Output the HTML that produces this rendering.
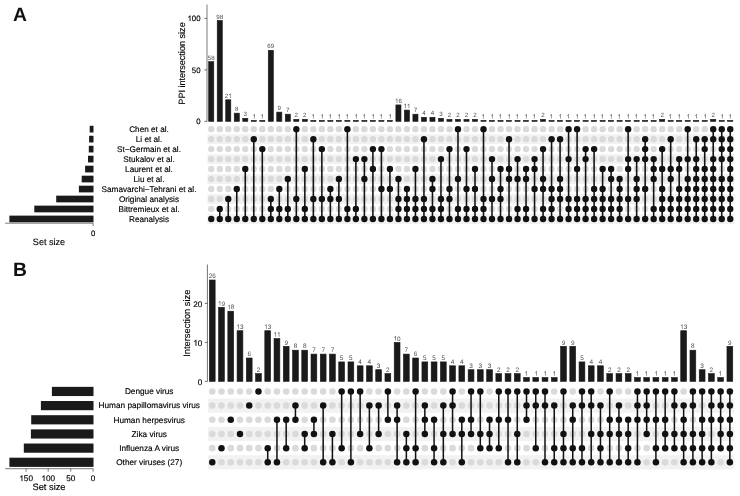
<!DOCTYPE html>
<html><head><meta charset="utf-8"><title>UpSet</title>
<style>
html,body{margin:0;padding:0;background:#fff;}
text{stroke:#000;stroke-width:0.15px;} .lb text{stroke:none;} path.tk{stroke:#000;stroke-width:0.02px;}
svg{display:block;font-family:"Liberation Sans",sans-serif;filter:grayscale(1);text-rendering:geometricPrecision;}
</style></head><body>
<svg width="740" height="496" viewBox="0 0 740 496">
<rect width="740" height="496" fill="#fff"/>
<rect x="207.3" y="134.14" width="527.3" height="9.98" fill="#f2f2f2"/>
<rect x="207.3" y="154.1" width="527.3" height="9.98" fill="#f2f2f2"/>
<rect x="207.3" y="174.06" width="527.3" height="9.98" fill="#f2f2f2"/>
<rect x="207.3" y="194.02" width="527.3" height="9.98" fill="#f2f2f2"/>
<rect x="207.3" y="213.98" width="527.3" height="9.98" fill="#f2f2f2"/>
<g fill="#dadada"><circle cx="211.25" cy="129.15" r="3.2"/><circle cx="211.25" cy="139.13" r="3.2"/><circle cx="211.25" cy="149.11" r="3.2"/><circle cx="211.25" cy="159.09" r="3.2"/><circle cx="211.25" cy="169.07" r="3.2"/><circle cx="211.25" cy="179.05" r="3.2"/><circle cx="211.25" cy="189.03" r="3.2"/><circle cx="211.25" cy="199.01" r="3.2"/><circle cx="211.25" cy="208.99" r="3.2"/><circle cx="219.76" cy="129.15" r="3.2"/><circle cx="219.76" cy="139.13" r="3.2"/><circle cx="219.76" cy="149.11" r="3.2"/><circle cx="219.76" cy="159.09" r="3.2"/><circle cx="219.76" cy="169.07" r="3.2"/><circle cx="219.76" cy="179.05" r="3.2"/><circle cx="219.76" cy="189.03" r="3.2"/><circle cx="219.76" cy="199.01" r="3.2"/><circle cx="228.27" cy="129.15" r="3.2"/><circle cx="228.27" cy="139.13" r="3.2"/><circle cx="228.27" cy="149.11" r="3.2"/><circle cx="228.27" cy="159.09" r="3.2"/><circle cx="228.27" cy="169.07" r="3.2"/><circle cx="228.27" cy="179.05" r="3.2"/><circle cx="228.27" cy="189.03" r="3.2"/><circle cx="228.27" cy="208.99" r="3.2"/><circle cx="236.77" cy="129.15" r="3.2"/><circle cx="236.77" cy="139.13" r="3.2"/><circle cx="236.77" cy="149.11" r="3.2"/><circle cx="236.77" cy="159.09" r="3.2"/><circle cx="236.77" cy="169.07" r="3.2"/><circle cx="236.77" cy="179.05" r="3.2"/><circle cx="236.77" cy="199.01" r="3.2"/><circle cx="236.77" cy="208.99" r="3.2"/><circle cx="245.28" cy="129.15" r="3.2"/><circle cx="245.28" cy="139.13" r="3.2"/><circle cx="245.28" cy="149.11" r="3.2"/><circle cx="245.28" cy="159.09" r="3.2"/><circle cx="245.28" cy="179.05" r="3.2"/><circle cx="245.28" cy="189.03" r="3.2"/><circle cx="245.28" cy="199.01" r="3.2"/><circle cx="245.28" cy="208.99" r="3.2"/><circle cx="253.79" cy="129.15" r="3.2"/><circle cx="253.79" cy="149.11" r="3.2"/><circle cx="253.79" cy="159.09" r="3.2"/><circle cx="253.79" cy="169.07" r="3.2"/><circle cx="253.79" cy="179.05" r="3.2"/><circle cx="253.79" cy="189.03" r="3.2"/><circle cx="253.79" cy="199.01" r="3.2"/><circle cx="253.79" cy="208.99" r="3.2"/><circle cx="262.3" cy="129.15" r="3.2"/><circle cx="262.3" cy="139.13" r="3.2"/><circle cx="262.3" cy="159.09" r="3.2"/><circle cx="262.3" cy="169.07" r="3.2"/><circle cx="262.3" cy="179.05" r="3.2"/><circle cx="262.3" cy="189.03" r="3.2"/><circle cx="262.3" cy="199.01" r="3.2"/><circle cx="262.3" cy="208.99" r="3.2"/><circle cx="270.81" cy="129.15" r="3.2"/><circle cx="270.81" cy="139.13" r="3.2"/><circle cx="270.81" cy="149.11" r="3.2"/><circle cx="270.81" cy="159.09" r="3.2"/><circle cx="270.81" cy="169.07" r="3.2"/><circle cx="270.81" cy="179.05" r="3.2"/><circle cx="270.81" cy="189.03" r="3.2"/><circle cx="279.31" cy="129.15" r="3.2"/><circle cx="279.31" cy="139.13" r="3.2"/><circle cx="279.31" cy="149.11" r="3.2"/><circle cx="279.31" cy="159.09" r="3.2"/><circle cx="279.31" cy="169.07" r="3.2"/><circle cx="279.31" cy="179.05" r="3.2"/><circle cx="279.31" cy="199.01" r="3.2"/><circle cx="287.82" cy="129.15" r="3.2"/><circle cx="287.82" cy="139.13" r="3.2"/><circle cx="287.82" cy="149.11" r="3.2"/><circle cx="287.82" cy="159.09" r="3.2"/><circle cx="287.82" cy="169.07" r="3.2"/><circle cx="287.82" cy="189.03" r="3.2"/><circle cx="287.82" cy="199.01" r="3.2"/><circle cx="296.33" cy="139.13" r="3.2"/><circle cx="296.33" cy="149.11" r="3.2"/><circle cx="296.33" cy="159.09" r="3.2"/><circle cx="296.33" cy="169.07" r="3.2"/><circle cx="296.33" cy="179.05" r="3.2"/><circle cx="296.33" cy="189.03" r="3.2"/><circle cx="296.33" cy="208.99" r="3.2"/><circle cx="304.84" cy="129.15" r="3.2"/><circle cx="304.84" cy="139.13" r="3.2"/><circle cx="304.84" cy="149.11" r="3.2"/><circle cx="304.84" cy="159.09" r="3.2"/><circle cx="304.84" cy="179.05" r="3.2"/><circle cx="304.84" cy="189.03" r="3.2"/><circle cx="304.84" cy="199.01" r="3.2"/><circle cx="313.35" cy="129.15" r="3.2"/><circle cx="313.35" cy="149.11" r="3.2"/><circle cx="313.35" cy="159.09" r="3.2"/><circle cx="313.35" cy="169.07" r="3.2"/><circle cx="313.35" cy="179.05" r="3.2"/><circle cx="313.35" cy="189.03" r="3.2"/><circle cx="313.35" cy="208.99" r="3.2"/><circle cx="321.85" cy="129.15" r="3.2"/><circle cx="321.85" cy="139.13" r="3.2"/><circle cx="321.85" cy="159.09" r="3.2"/><circle cx="321.85" cy="169.07" r="3.2"/><circle cx="321.85" cy="179.05" r="3.2"/><circle cx="321.85" cy="189.03" r="3.2"/><circle cx="321.85" cy="208.99" r="3.2"/><circle cx="330.36" cy="129.15" r="3.2"/><circle cx="330.36" cy="139.13" r="3.2"/><circle cx="330.36" cy="149.11" r="3.2"/><circle cx="330.36" cy="159.09" r="3.2"/><circle cx="330.36" cy="169.07" r="3.2"/><circle cx="330.36" cy="179.05" r="3.2"/><circle cx="330.36" cy="208.99" r="3.2"/><circle cx="338.87" cy="129.15" r="3.2"/><circle cx="338.87" cy="139.13" r="3.2"/><circle cx="338.87" cy="149.11" r="3.2"/><circle cx="338.87" cy="159.09" r="3.2"/><circle cx="338.87" cy="169.07" r="3.2"/><circle cx="338.87" cy="189.03" r="3.2"/><circle cx="338.87" cy="208.99" r="3.2"/><circle cx="347.38" cy="139.13" r="3.2"/><circle cx="347.38" cy="149.11" r="3.2"/><circle cx="347.38" cy="159.09" r="3.2"/><circle cx="347.38" cy="169.07" r="3.2"/><circle cx="347.38" cy="179.05" r="3.2"/><circle cx="347.38" cy="189.03" r="3.2"/><circle cx="347.38" cy="199.01" r="3.2"/><circle cx="355.89" cy="129.15" r="3.2"/><circle cx="355.89" cy="139.13" r="3.2"/><circle cx="355.89" cy="149.11" r="3.2"/><circle cx="355.89" cy="169.07" r="3.2"/><circle cx="355.89" cy="179.05" r="3.2"/><circle cx="355.89" cy="189.03" r="3.2"/><circle cx="355.89" cy="199.01" r="3.2"/><circle cx="364.39" cy="129.15" r="3.2"/><circle cx="364.39" cy="139.13" r="3.2"/><circle cx="364.39" cy="149.11" r="3.2"/><circle cx="364.39" cy="169.07" r="3.2"/><circle cx="364.39" cy="189.03" r="3.2"/><circle cx="364.39" cy="199.01" r="3.2"/><circle cx="364.39" cy="208.99" r="3.2"/><circle cx="372.9" cy="129.15" r="3.2"/><circle cx="372.9" cy="139.13" r="3.2"/><circle cx="372.9" cy="159.09" r="3.2"/><circle cx="372.9" cy="179.05" r="3.2"/><circle cx="372.9" cy="189.03" r="3.2"/><circle cx="372.9" cy="199.01" r="3.2"/><circle cx="372.9" cy="208.99" r="3.2"/><circle cx="381.41" cy="129.15" r="3.2"/><circle cx="381.41" cy="139.13" r="3.2"/><circle cx="381.41" cy="159.09" r="3.2"/><circle cx="381.41" cy="169.07" r="3.2"/><circle cx="381.41" cy="179.05" r="3.2"/><circle cx="381.41" cy="199.01" r="3.2"/><circle cx="381.41" cy="208.99" r="3.2"/><circle cx="389.92" cy="129.15" r="3.2"/><circle cx="389.92" cy="139.13" r="3.2"/><circle cx="389.92" cy="149.11" r="3.2"/><circle cx="389.92" cy="159.09" r="3.2"/><circle cx="389.92" cy="179.05" r="3.2"/><circle cx="389.92" cy="199.01" r="3.2"/><circle cx="389.92" cy="208.99" r="3.2"/><circle cx="398.43" cy="129.15" r="3.2"/><circle cx="398.43" cy="139.13" r="3.2"/><circle cx="398.43" cy="149.11" r="3.2"/><circle cx="398.43" cy="159.09" r="3.2"/><circle cx="398.43" cy="169.07" r="3.2"/><circle cx="398.43" cy="189.03" r="3.2"/><circle cx="406.93" cy="129.15" r="3.2"/><circle cx="406.93" cy="139.13" r="3.2"/><circle cx="406.93" cy="149.11" r="3.2"/><circle cx="406.93" cy="159.09" r="3.2"/><circle cx="406.93" cy="169.07" r="3.2"/><circle cx="406.93" cy="179.05" r="3.2"/><circle cx="415.44" cy="129.15" r="3.2"/><circle cx="415.44" cy="139.13" r="3.2"/><circle cx="415.44" cy="149.11" r="3.2"/><circle cx="415.44" cy="159.09" r="3.2"/><circle cx="415.44" cy="179.05" r="3.2"/><circle cx="415.44" cy="189.03" r="3.2"/><circle cx="423.95" cy="129.15" r="3.2"/><circle cx="423.95" cy="149.11" r="3.2"/><circle cx="423.95" cy="159.09" r="3.2"/><circle cx="423.95" cy="169.07" r="3.2"/><circle cx="423.95" cy="179.05" r="3.2"/><circle cx="423.95" cy="189.03" r="3.2"/><circle cx="432.46" cy="129.15" r="3.2"/><circle cx="432.46" cy="139.13" r="3.2"/><circle cx="432.46" cy="149.11" r="3.2"/><circle cx="432.46" cy="159.09" r="3.2"/><circle cx="432.46" cy="169.07" r="3.2"/><circle cx="432.46" cy="199.01" r="3.2"/><circle cx="440.97" cy="129.15" r="3.2"/><circle cx="440.97" cy="139.13" r="3.2"/><circle cx="440.97" cy="149.11" r="3.2"/><circle cx="440.97" cy="169.07" r="3.2"/><circle cx="440.97" cy="179.05" r="3.2"/><circle cx="440.97" cy="189.03" r="3.2"/><circle cx="449.47" cy="129.15" r="3.2"/><circle cx="449.47" cy="139.13" r="3.2"/><circle cx="449.47" cy="159.09" r="3.2"/><circle cx="449.47" cy="169.07" r="3.2"/><circle cx="449.47" cy="179.05" r="3.2"/><circle cx="449.47" cy="208.99" r="3.2"/><circle cx="457.98" cy="139.13" r="3.2"/><circle cx="457.98" cy="149.11" r="3.2"/><circle cx="457.98" cy="159.09" r="3.2"/><circle cx="457.98" cy="169.07" r="3.2"/><circle cx="457.98" cy="189.03" r="3.2"/><circle cx="457.98" cy="199.01" r="3.2"/><circle cx="466.49" cy="129.15" r="3.2"/><circle cx="466.49" cy="139.13" r="3.2"/><circle cx="466.49" cy="159.09" r="3.2"/><circle cx="466.49" cy="169.07" r="3.2"/><circle cx="466.49" cy="179.05" r="3.2"/><circle cx="466.49" cy="199.01" r="3.2"/><circle cx="475" cy="129.15" r="3.2"/><circle cx="475" cy="139.13" r="3.2"/><circle cx="475" cy="149.11" r="3.2"/><circle cx="475" cy="159.09" r="3.2"/><circle cx="475" cy="179.05" r="3.2"/><circle cx="475" cy="199.01" r="3.2"/><circle cx="483.51" cy="139.13" r="3.2"/><circle cx="483.51" cy="149.11" r="3.2"/><circle cx="483.51" cy="159.09" r="3.2"/><circle cx="483.51" cy="169.07" r="3.2"/><circle cx="483.51" cy="179.05" r="3.2"/><circle cx="483.51" cy="189.03" r="3.2"/><circle cx="492.01" cy="129.15" r="3.2"/><circle cx="492.01" cy="139.13" r="3.2"/><circle cx="492.01" cy="149.11" r="3.2"/><circle cx="492.01" cy="169.07" r="3.2"/><circle cx="492.01" cy="189.03" r="3.2"/><circle cx="492.01" cy="208.99" r="3.2"/><circle cx="500.52" cy="129.15" r="3.2"/><circle cx="500.52" cy="139.13" r="3.2"/><circle cx="500.52" cy="149.11" r="3.2"/><circle cx="500.52" cy="159.09" r="3.2"/><circle cx="500.52" cy="179.05" r="3.2"/><circle cx="500.52" cy="208.99" r="3.2"/><circle cx="509.03" cy="129.15" r="3.2"/><circle cx="509.03" cy="149.11" r="3.2"/><circle cx="509.03" cy="159.09" r="3.2"/><circle cx="509.03" cy="189.03" r="3.2"/><circle cx="509.03" cy="199.01" r="3.2"/><circle cx="509.03" cy="208.99" r="3.2"/><circle cx="517.54" cy="129.15" r="3.2"/><circle cx="517.54" cy="139.13" r="3.2"/><circle cx="517.54" cy="149.11" r="3.2"/><circle cx="517.54" cy="169.07" r="3.2"/><circle cx="517.54" cy="189.03" r="3.2"/><circle cx="517.54" cy="199.01" r="3.2"/><circle cx="526.05" cy="129.15" r="3.2"/><circle cx="526.05" cy="139.13" r="3.2"/><circle cx="526.05" cy="149.11" r="3.2"/><circle cx="526.05" cy="159.09" r="3.2"/><circle cx="526.05" cy="189.03" r="3.2"/><circle cx="526.05" cy="199.01" r="3.2"/><circle cx="534.55" cy="129.15" r="3.2"/><circle cx="534.55" cy="139.13" r="3.2"/><circle cx="534.55" cy="149.11" r="3.2"/><circle cx="534.55" cy="179.05" r="3.2"/><circle cx="534.55" cy="199.01" r="3.2"/><circle cx="534.55" cy="208.99" r="3.2"/><circle cx="543.06" cy="129.15" r="3.2"/><circle cx="543.06" cy="139.13" r="3.2"/><circle cx="543.06" cy="159.09" r="3.2"/><circle cx="543.06" cy="169.07" r="3.2"/><circle cx="543.06" cy="199.01" r="3.2"/><circle cx="551.57" cy="129.15" r="3.2"/><circle cx="551.57" cy="149.11" r="3.2"/><circle cx="551.57" cy="159.09" r="3.2"/><circle cx="551.57" cy="169.07" r="3.2"/><circle cx="551.57" cy="179.05" r="3.2"/><circle cx="560.08" cy="129.15" r="3.2"/><circle cx="560.08" cy="149.11" r="3.2"/><circle cx="560.08" cy="159.09" r="3.2"/><circle cx="560.08" cy="169.07" r="3.2"/><circle cx="560.08" cy="208.99" r="3.2"/><circle cx="568.59" cy="139.13" r="3.2"/><circle cx="568.59" cy="149.11" r="3.2"/><circle cx="568.59" cy="169.07" r="3.2"/><circle cx="568.59" cy="179.05" r="3.2"/><circle cx="568.59" cy="189.03" r="3.2"/><circle cx="577.09" cy="139.13" r="3.2"/><circle cx="577.09" cy="149.11" r="3.2"/><circle cx="577.09" cy="159.09" r="3.2"/><circle cx="577.09" cy="179.05" r="3.2"/><circle cx="577.09" cy="189.03" r="3.2"/><circle cx="585.6" cy="129.15" r="3.2"/><circle cx="585.6" cy="139.13" r="3.2"/><circle cx="585.6" cy="169.07" r="3.2"/><circle cx="585.6" cy="179.05" r="3.2"/><circle cx="585.6" cy="189.03" r="3.2"/><circle cx="594.11" cy="129.15" r="3.2"/><circle cx="594.11" cy="139.13" r="3.2"/><circle cx="594.11" cy="159.09" r="3.2"/><circle cx="594.11" cy="169.07" r="3.2"/><circle cx="594.11" cy="179.05" r="3.2"/><circle cx="602.62" cy="129.15" r="3.2"/><circle cx="602.62" cy="139.13" r="3.2"/><circle cx="602.62" cy="149.11" r="3.2"/><circle cx="602.62" cy="159.09" r="3.2"/><circle cx="602.62" cy="179.05" r="3.2"/><circle cx="611.13" cy="129.15" r="3.2"/><circle cx="611.13" cy="139.13" r="3.2"/><circle cx="611.13" cy="149.11" r="3.2"/><circle cx="611.13" cy="159.09" r="3.2"/><circle cx="611.13" cy="189.03" r="3.2"/><circle cx="619.63" cy="129.15" r="3.2"/><circle cx="619.63" cy="139.13" r="3.2"/><circle cx="619.63" cy="149.11" r="3.2"/><circle cx="619.63" cy="159.09" r="3.2"/><circle cx="619.63" cy="169.07" r="3.2"/><circle cx="628.14" cy="139.13" r="3.2"/><circle cx="628.14" cy="149.11" r="3.2"/><circle cx="628.14" cy="179.05" r="3.2"/><circle cx="628.14" cy="189.03" r="3.2"/><circle cx="628.14" cy="208.99" r="3.2"/><circle cx="636.65" cy="129.15" r="3.2"/><circle cx="636.65" cy="139.13" r="3.2"/><circle cx="636.65" cy="149.11" r="3.2"/><circle cx="636.65" cy="169.07" r="3.2"/><circle cx="636.65" cy="208.99" r="3.2"/><circle cx="645.16" cy="129.15" r="3.2"/><circle cx="645.16" cy="169.07" r="3.2"/><circle cx="645.16" cy="179.05" r="3.2"/><circle cx="645.16" cy="199.01" r="3.2"/><circle cx="645.16" cy="208.99" r="3.2"/><circle cx="653.67" cy="129.15" r="3.2"/><circle cx="653.67" cy="139.13" r="3.2"/><circle cx="653.67" cy="149.11" r="3.2"/><circle cx="653.67" cy="189.03" r="3.2"/><circle cx="653.67" cy="199.01" r="3.2"/><circle cx="662.17" cy="129.15" r="3.2"/><circle cx="662.17" cy="139.13" r="3.2"/><circle cx="662.17" cy="159.09" r="3.2"/><circle cx="662.17" cy="179.05" r="3.2"/><circle cx="670.68" cy="129.15" r="3.2"/><circle cx="670.68" cy="149.11" r="3.2"/><circle cx="670.68" cy="159.09" r="3.2"/><circle cx="670.68" cy="189.03" r="3.2"/><circle cx="679.19" cy="129.15" r="3.2"/><circle cx="679.19" cy="139.13" r="3.2"/><circle cx="679.19" cy="149.11" r="3.2"/><circle cx="679.19" cy="179.05" r="3.2"/><circle cx="687.7" cy="139.13" r="3.2"/><circle cx="687.7" cy="149.11" r="3.2"/><circle cx="687.7" cy="169.07" r="3.2"/><circle cx="696.21" cy="129.15" r="3.2"/><circle cx="696.21" cy="149.11" r="3.2"/><circle cx="704.71" cy="129.15" r="3.2"/><circle cx="704.71" cy="159.09" r="3.2"/><circle cx="713.22" cy="149.11" r="3.2"/><circle cx="721.73" cy="169.07" r="3.2"/></g>
<path d="M219.76 208.99V218.97M228.27 199.01V218.97M236.77 189.03V218.97M245.28 169.07V218.97M253.79 139.13V218.97M262.3 149.11V218.97M270.81 199.01V218.97M279.31 189.03V218.97M287.82 179.05V218.97M296.33 129.15V218.97M304.84 169.07V218.97M313.35 139.13V218.97M321.85 149.11V218.97M330.36 189.03V218.97M338.87 179.05V218.97M347.38 129.15V218.97M355.89 159.09V218.97M364.39 159.09V218.97M372.9 149.11V218.97M381.41 149.11V218.97M389.92 169.07V218.97M398.43 179.05V218.97M406.93 189.03V218.97M415.44 169.07V218.97M423.95 139.13V218.97M432.46 179.05V218.97M440.97 159.09V218.97M449.47 149.11V218.97M457.98 129.15V218.97M466.49 149.11V218.97M475 169.07V218.97M483.51 129.15V218.97M492.01 159.09V218.97M500.52 169.07V218.97M509.03 139.13V218.97M517.54 159.09V218.97M526.05 169.07V218.97M534.55 159.09V218.97M543.06 149.11V218.97M551.57 139.13V218.97M560.08 139.13V218.97M568.59 129.15V218.97M577.09 129.15V218.97M585.6 149.11V218.97M594.11 149.11V218.97M602.62 169.07V218.97M611.13 169.07V218.97M619.63 179.05V218.97M628.14 129.15V218.97M636.65 159.09V218.97M645.16 139.13V218.97M653.67 159.09V218.97M662.17 149.11V218.97M670.68 139.13V218.97M679.19 159.09V218.97M687.7 129.15V218.97M696.21 139.13V218.97M704.71 139.13V218.97M713.22 129.15V218.97M721.73 129.15V218.97M730.24 129.15V218.97" stroke="#111" stroke-width="1.55" fill="none"/>
<g fill="#111"><circle cx="211.25" cy="218.97" r="3.2"/><circle cx="219.76" cy="208.99" r="3.2"/><circle cx="219.76" cy="218.97" r="3.2"/><circle cx="228.27" cy="199.01" r="3.2"/><circle cx="228.27" cy="218.97" r="3.2"/><circle cx="236.77" cy="189.03" r="3.2"/><circle cx="236.77" cy="218.97" r="3.2"/><circle cx="245.28" cy="169.07" r="3.2"/><circle cx="245.28" cy="218.97" r="3.2"/><circle cx="253.79" cy="139.13" r="3.2"/><circle cx="253.79" cy="218.97" r="3.2"/><circle cx="262.3" cy="149.11" r="3.2"/><circle cx="262.3" cy="218.97" r="3.2"/><circle cx="270.81" cy="199.01" r="3.2"/><circle cx="270.81" cy="208.99" r="3.2"/><circle cx="270.81" cy="218.97" r="3.2"/><circle cx="279.31" cy="189.03" r="3.2"/><circle cx="279.31" cy="208.99" r="3.2"/><circle cx="279.31" cy="218.97" r="3.2"/><circle cx="287.82" cy="179.05" r="3.2"/><circle cx="287.82" cy="208.99" r="3.2"/><circle cx="287.82" cy="218.97" r="3.2"/><circle cx="296.33" cy="129.15" r="3.2"/><circle cx="296.33" cy="199.01" r="3.2"/><circle cx="296.33" cy="218.97" r="3.2"/><circle cx="304.84" cy="169.07" r="3.2"/><circle cx="304.84" cy="208.99" r="3.2"/><circle cx="304.84" cy="218.97" r="3.2"/><circle cx="313.35" cy="139.13" r="3.2"/><circle cx="313.35" cy="199.01" r="3.2"/><circle cx="313.35" cy="218.97" r="3.2"/><circle cx="321.85" cy="149.11" r="3.2"/><circle cx="321.85" cy="199.01" r="3.2"/><circle cx="321.85" cy="218.97" r="3.2"/><circle cx="330.36" cy="189.03" r="3.2"/><circle cx="330.36" cy="199.01" r="3.2"/><circle cx="330.36" cy="218.97" r="3.2"/><circle cx="338.87" cy="179.05" r="3.2"/><circle cx="338.87" cy="199.01" r="3.2"/><circle cx="338.87" cy="218.97" r="3.2"/><circle cx="347.38" cy="129.15" r="3.2"/><circle cx="347.38" cy="208.99" r="3.2"/><circle cx="347.38" cy="218.97" r="3.2"/><circle cx="355.89" cy="159.09" r="3.2"/><circle cx="355.89" cy="208.99" r="3.2"/><circle cx="355.89" cy="218.97" r="3.2"/><circle cx="364.39" cy="159.09" r="3.2"/><circle cx="364.39" cy="179.05" r="3.2"/><circle cx="364.39" cy="218.97" r="3.2"/><circle cx="372.9" cy="149.11" r="3.2"/><circle cx="372.9" cy="169.07" r="3.2"/><circle cx="372.9" cy="218.97" r="3.2"/><circle cx="381.41" cy="149.11" r="3.2"/><circle cx="381.41" cy="189.03" r="3.2"/><circle cx="381.41" cy="218.97" r="3.2"/><circle cx="389.92" cy="169.07" r="3.2"/><circle cx="389.92" cy="189.03" r="3.2"/><circle cx="389.92" cy="218.97" r="3.2"/><circle cx="398.43" cy="179.05" r="3.2"/><circle cx="398.43" cy="199.01" r="3.2"/><circle cx="398.43" cy="208.99" r="3.2"/><circle cx="398.43" cy="218.97" r="3.2"/><circle cx="406.93" cy="189.03" r="3.2"/><circle cx="406.93" cy="199.01" r="3.2"/><circle cx="406.93" cy="208.99" r="3.2"/><circle cx="406.93" cy="218.97" r="3.2"/><circle cx="415.44" cy="169.07" r="3.2"/><circle cx="415.44" cy="199.01" r="3.2"/><circle cx="415.44" cy="208.99" r="3.2"/><circle cx="415.44" cy="218.97" r="3.2"/><circle cx="423.95" cy="139.13" r="3.2"/><circle cx="423.95" cy="199.01" r="3.2"/><circle cx="423.95" cy="208.99" r="3.2"/><circle cx="423.95" cy="218.97" r="3.2"/><circle cx="432.46" cy="179.05" r="3.2"/><circle cx="432.46" cy="189.03" r="3.2"/><circle cx="432.46" cy="208.99" r="3.2"/><circle cx="432.46" cy="218.97" r="3.2"/><circle cx="440.97" cy="159.09" r="3.2"/><circle cx="440.97" cy="199.01" r="3.2"/><circle cx="440.97" cy="208.99" r="3.2"/><circle cx="440.97" cy="218.97" r="3.2"/><circle cx="449.47" cy="149.11" r="3.2"/><circle cx="449.47" cy="189.03" r="3.2"/><circle cx="449.47" cy="199.01" r="3.2"/><circle cx="449.47" cy="218.97" r="3.2"/><circle cx="457.98" cy="129.15" r="3.2"/><circle cx="457.98" cy="179.05" r="3.2"/><circle cx="457.98" cy="208.99" r="3.2"/><circle cx="457.98" cy="218.97" r="3.2"/><circle cx="466.49" cy="149.11" r="3.2"/><circle cx="466.49" cy="189.03" r="3.2"/><circle cx="466.49" cy="208.99" r="3.2"/><circle cx="466.49" cy="218.97" r="3.2"/><circle cx="475" cy="169.07" r="3.2"/><circle cx="475" cy="189.03" r="3.2"/><circle cx="475" cy="208.99" r="3.2"/><circle cx="475" cy="218.97" r="3.2"/><circle cx="483.51" cy="129.15" r="3.2"/><circle cx="483.51" cy="199.01" r="3.2"/><circle cx="483.51" cy="208.99" r="3.2"/><circle cx="483.51" cy="218.97" r="3.2"/><circle cx="492.01" cy="159.09" r="3.2"/><circle cx="492.01" cy="179.05" r="3.2"/><circle cx="492.01" cy="199.01" r="3.2"/><circle cx="492.01" cy="218.97" r="3.2"/><circle cx="500.52" cy="169.07" r="3.2"/><circle cx="500.52" cy="189.03" r="3.2"/><circle cx="500.52" cy="199.01" r="3.2"/><circle cx="500.52" cy="218.97" r="3.2"/><circle cx="509.03" cy="139.13" r="3.2"/><circle cx="509.03" cy="169.07" r="3.2"/><circle cx="509.03" cy="179.05" r="3.2"/><circle cx="509.03" cy="218.97" r="3.2"/><circle cx="517.54" cy="159.09" r="3.2"/><circle cx="517.54" cy="179.05" r="3.2"/><circle cx="517.54" cy="208.99" r="3.2"/><circle cx="517.54" cy="218.97" r="3.2"/><circle cx="526.05" cy="169.07" r="3.2"/><circle cx="526.05" cy="179.05" r="3.2"/><circle cx="526.05" cy="208.99" r="3.2"/><circle cx="526.05" cy="218.97" r="3.2"/><circle cx="534.55" cy="159.09" r="3.2"/><circle cx="534.55" cy="169.07" r="3.2"/><circle cx="534.55" cy="189.03" r="3.2"/><circle cx="534.55" cy="218.97" r="3.2"/><circle cx="543.06" cy="149.11" r="3.2"/><circle cx="543.06" cy="179.05" r="3.2"/><circle cx="543.06" cy="189.03" r="3.2"/><circle cx="543.06" cy="208.99" r="3.2"/><circle cx="543.06" cy="218.97" r="3.2"/><circle cx="551.57" cy="139.13" r="3.2"/><circle cx="551.57" cy="189.03" r="3.2"/><circle cx="551.57" cy="199.01" r="3.2"/><circle cx="551.57" cy="208.99" r="3.2"/><circle cx="551.57" cy="218.97" r="3.2"/><circle cx="560.08" cy="139.13" r="3.2"/><circle cx="560.08" cy="179.05" r="3.2"/><circle cx="560.08" cy="189.03" r="3.2"/><circle cx="560.08" cy="199.01" r="3.2"/><circle cx="560.08" cy="218.97" r="3.2"/><circle cx="568.59" cy="129.15" r="3.2"/><circle cx="568.59" cy="159.09" r="3.2"/><circle cx="568.59" cy="199.01" r="3.2"/><circle cx="568.59" cy="208.99" r="3.2"/><circle cx="568.59" cy="218.97" r="3.2"/><circle cx="577.09" cy="129.15" r="3.2"/><circle cx="577.09" cy="169.07" r="3.2"/><circle cx="577.09" cy="199.01" r="3.2"/><circle cx="577.09" cy="208.99" r="3.2"/><circle cx="577.09" cy="218.97" r="3.2"/><circle cx="585.6" cy="149.11" r="3.2"/><circle cx="585.6" cy="159.09" r="3.2"/><circle cx="585.6" cy="199.01" r="3.2"/><circle cx="585.6" cy="208.99" r="3.2"/><circle cx="585.6" cy="218.97" r="3.2"/><circle cx="594.11" cy="149.11" r="3.2"/><circle cx="594.11" cy="189.03" r="3.2"/><circle cx="594.11" cy="199.01" r="3.2"/><circle cx="594.11" cy="208.99" r="3.2"/><circle cx="594.11" cy="218.97" r="3.2"/><circle cx="602.62" cy="169.07" r="3.2"/><circle cx="602.62" cy="189.03" r="3.2"/><circle cx="602.62" cy="199.01" r="3.2"/><circle cx="602.62" cy="208.99" r="3.2"/><circle cx="602.62" cy="218.97" r="3.2"/><circle cx="611.13" cy="169.07" r="3.2"/><circle cx="611.13" cy="179.05" r="3.2"/><circle cx="611.13" cy="199.01" r="3.2"/><circle cx="611.13" cy="208.99" r="3.2"/><circle cx="611.13" cy="218.97" r="3.2"/><circle cx="619.63" cy="179.05" r="3.2"/><circle cx="619.63" cy="189.03" r="3.2"/><circle cx="619.63" cy="199.01" r="3.2"/><circle cx="619.63" cy="208.99" r="3.2"/><circle cx="619.63" cy="218.97" r="3.2"/><circle cx="628.14" cy="129.15" r="3.2"/><circle cx="628.14" cy="159.09" r="3.2"/><circle cx="628.14" cy="169.07" r="3.2"/><circle cx="628.14" cy="199.01" r="3.2"/><circle cx="628.14" cy="218.97" r="3.2"/><circle cx="636.65" cy="159.09" r="3.2"/><circle cx="636.65" cy="179.05" r="3.2"/><circle cx="636.65" cy="189.03" r="3.2"/><circle cx="636.65" cy="199.01" r="3.2"/><circle cx="636.65" cy="218.97" r="3.2"/><circle cx="645.16" cy="139.13" r="3.2"/><circle cx="645.16" cy="149.11" r="3.2"/><circle cx="645.16" cy="159.09" r="3.2"/><circle cx="645.16" cy="189.03" r="3.2"/><circle cx="645.16" cy="218.97" r="3.2"/><circle cx="653.67" cy="159.09" r="3.2"/><circle cx="653.67" cy="169.07" r="3.2"/><circle cx="653.67" cy="179.05" r="3.2"/><circle cx="653.67" cy="208.99" r="3.2"/><circle cx="653.67" cy="218.97" r="3.2"/><circle cx="662.17" cy="149.11" r="3.2"/><circle cx="662.17" cy="169.07" r="3.2"/><circle cx="662.17" cy="189.03" r="3.2"/><circle cx="662.17" cy="199.01" r="3.2"/><circle cx="662.17" cy="208.99" r="3.2"/><circle cx="662.17" cy="218.97" r="3.2"/><circle cx="670.68" cy="139.13" r="3.2"/><circle cx="670.68" cy="169.07" r="3.2"/><circle cx="670.68" cy="179.05" r="3.2"/><circle cx="670.68" cy="199.01" r="3.2"/><circle cx="670.68" cy="208.99" r="3.2"/><circle cx="670.68" cy="218.97" r="3.2"/><circle cx="679.19" cy="159.09" r="3.2"/><circle cx="679.19" cy="169.07" r="3.2"/><circle cx="679.19" cy="189.03" r="3.2"/><circle cx="679.19" cy="199.01" r="3.2"/><circle cx="679.19" cy="208.99" r="3.2"/><circle cx="679.19" cy="218.97" r="3.2"/><circle cx="687.7" cy="129.15" r="3.2"/><circle cx="687.7" cy="159.09" r="3.2"/><circle cx="687.7" cy="179.05" r="3.2"/><circle cx="687.7" cy="189.03" r="3.2"/><circle cx="687.7" cy="199.01" r="3.2"/><circle cx="687.7" cy="208.99" r="3.2"/><circle cx="687.7" cy="218.97" r="3.2"/><circle cx="696.21" cy="139.13" r="3.2"/><circle cx="696.21" cy="159.09" r="3.2"/><circle cx="696.21" cy="169.07" r="3.2"/><circle cx="696.21" cy="179.05" r="3.2"/><circle cx="696.21" cy="189.03" r="3.2"/><circle cx="696.21" cy="199.01" r="3.2"/><circle cx="696.21" cy="208.99" r="3.2"/><circle cx="696.21" cy="218.97" r="3.2"/><circle cx="704.71" cy="139.13" r="3.2"/><circle cx="704.71" cy="149.11" r="3.2"/><circle cx="704.71" cy="169.07" r="3.2"/><circle cx="704.71" cy="179.05" r="3.2"/><circle cx="704.71" cy="189.03" r="3.2"/><circle cx="704.71" cy="199.01" r="3.2"/><circle cx="704.71" cy="208.99" r="3.2"/><circle cx="704.71" cy="218.97" r="3.2"/><circle cx="713.22" cy="129.15" r="3.2"/><circle cx="713.22" cy="139.13" r="3.2"/><circle cx="713.22" cy="159.09" r="3.2"/><circle cx="713.22" cy="169.07" r="3.2"/><circle cx="713.22" cy="179.05" r="3.2"/><circle cx="713.22" cy="189.03" r="3.2"/><circle cx="713.22" cy="199.01" r="3.2"/><circle cx="713.22" cy="208.99" r="3.2"/><circle cx="713.22" cy="218.97" r="3.2"/><circle cx="721.73" cy="129.15" r="3.2"/><circle cx="721.73" cy="139.13" r="3.2"/><circle cx="721.73" cy="149.11" r="3.2"/><circle cx="721.73" cy="159.09" r="3.2"/><circle cx="721.73" cy="179.05" r="3.2"/><circle cx="721.73" cy="189.03" r="3.2"/><circle cx="721.73" cy="199.01" r="3.2"/><circle cx="721.73" cy="208.99" r="3.2"/><circle cx="721.73" cy="218.97" r="3.2"/><circle cx="730.24" cy="129.15" r="3.2"/><circle cx="730.24" cy="139.13" r="3.2"/><circle cx="730.24" cy="149.11" r="3.2"/><circle cx="730.24" cy="159.09" r="3.2"/><circle cx="730.24" cy="169.07" r="3.2"/><circle cx="730.24" cy="179.05" r="3.2"/><circle cx="730.24" cy="189.03" r="3.2"/><circle cx="730.24" cy="199.01" r="3.2"/><circle cx="730.24" cy="208.99" r="3.2"/><circle cx="730.24" cy="218.97" r="3.2"/></g>
<g fill="#1a1a1a" stroke="#1a1a1a" stroke-width="0.6"><rect x="208.7" y="61.66" width="5.1" height="59.74"/><rect x="217.21" y="20.46" width="5.1" height="100.94"/><rect x="225.72" y="99.77" width="5.1" height="21.63"/><rect x="234.22" y="113.16" width="5.1" height="8.24"/><rect x="242.73" y="118.31" width="5.1" height="3.09"/><rect x="251.24" y="120.37" width="5.1" height="1.03"/><rect x="259.75" y="120.37" width="5.1" height="1.03"/><rect x="268.26" y="50.33" width="5.1" height="71.07"/><rect x="276.76" y="112.13" width="5.1" height="9.27"/><rect x="285.27" y="114.19" width="5.1" height="7.21"/><rect x="293.78" y="119.34" width="5.1" height="2.06"/><rect x="302.29" y="119.34" width="5.1" height="2.06"/><rect x="310.8" y="120.37" width="5.1" height="1.03"/><rect x="319.3" y="120.37" width="5.1" height="1.03"/><rect x="327.81" y="120.37" width="5.1" height="1.03"/><rect x="336.32" y="120.37" width="5.1" height="1.03"/><rect x="344.83" y="120.37" width="5.1" height="1.03"/><rect x="353.34" y="120.37" width="5.1" height="1.03"/><rect x="361.84" y="120.37" width="5.1" height="1.03"/><rect x="370.35" y="120.37" width="5.1" height="1.03"/><rect x="378.86" y="120.37" width="5.1" height="1.03"/><rect x="387.37" y="120.37" width="5.1" height="1.03"/><rect x="395.88" y="104.92" width="5.1" height="16.48"/><rect x="404.38" y="110.07" width="5.1" height="11.33"/><rect x="412.89" y="114.19" width="5.1" height="7.21"/><rect x="421.4" y="117.28" width="5.1" height="4.12"/><rect x="429.91" y="117.28" width="5.1" height="4.12"/><rect x="438.42" y="118.31" width="5.1" height="3.09"/><rect x="446.92" y="119.34" width="5.1" height="2.06"/><rect x="455.43" y="119.34" width="5.1" height="2.06"/><rect x="463.94" y="119.34" width="5.1" height="2.06"/><rect x="472.45" y="119.34" width="5.1" height="2.06"/><rect x="480.96" y="120.37" width="5.1" height="1.03"/><rect x="489.46" y="120.37" width="5.1" height="1.03"/><rect x="497.97" y="120.37" width="5.1" height="1.03"/><rect x="506.48" y="120.37" width="5.1" height="1.03"/><rect x="514.99" y="120.37" width="5.1" height="1.03"/><rect x="523.5" y="120.37" width="5.1" height="1.03"/><rect x="532" y="120.37" width="5.1" height="1.03"/><rect x="540.51" y="119.34" width="5.1" height="2.06"/><rect x="549.02" y="120.37" width="5.1" height="1.03"/><rect x="557.53" y="120.37" width="5.1" height="1.03"/><rect x="566.04" y="120.37" width="5.1" height="1.03"/><rect x="574.54" y="120.37" width="5.1" height="1.03"/><rect x="583.05" y="120.37" width="5.1" height="1.03"/><rect x="591.56" y="120.37" width="5.1" height="1.03"/><rect x="600.07" y="120.37" width="5.1" height="1.03"/><rect x="608.58" y="120.37" width="5.1" height="1.03"/><rect x="617.08" y="120.37" width="5.1" height="1.03"/><rect x="625.59" y="120.37" width="5.1" height="1.03"/><rect x="634.1" y="120.37" width="5.1" height="1.03"/><rect x="642.61" y="120.37" width="5.1" height="1.03"/><rect x="651.12" y="120.37" width="5.1" height="1.03"/><rect x="659.62" y="119.34" width="5.1" height="2.06"/><rect x="668.13" y="120.37" width="5.1" height="1.03"/><rect x="676.64" y="120.37" width="5.1" height="1.03"/><rect x="685.15" y="120.37" width="5.1" height="1.03"/><rect x="693.66" y="120.37" width="5.1" height="1.03"/><rect x="702.16" y="120.37" width="5.1" height="1.03"/><rect x="710.67" y="119.34" width="5.1" height="2.06"/><rect x="719.18" y="120.37" width="5.1" height="1.03"/><rect x="727.69" y="120.37" width="5.1" height="1.03"/></g>
<g class="lb" fill="#4c4c4c" font-size="6.2" text-anchor="middle"><text x="211.25" y="59.81" font-size="6.2" text-anchor="middle" fill="#4c4c4c">58</text><text x="219.76" y="18.61" font-size="6.2" text-anchor="middle" fill="#4c4c4c">98</text><text x="224.82" y="97.92" font-size="6.2" text-anchor="start" fill="#4c4c4c">2</text><path d="M.3726 0H.2847V-.56Q.2529-.5298 .2014-.4995Q.1499-.4692 .1089-.4541V-.5391Q.1826-.5737 .2378-.623Q.293-.6724 .3159-.7188H.3726Z" transform="translate(228.27 97.92) scale(6.2)" fill="#4c4c4c"/><text x="236.77" y="111.31" font-size="6.2" text-anchor="middle" fill="#4c4c4c">8</text><text x="245.28" y="116.46" font-size="6.2" text-anchor="middle" fill="#4c4c4c">3</text><path d="M.3726 0H.2847V-.56Q.2529-.5298 .2014-.4995Q.1499-.4692 .1089-.4541V-.5391Q.1826-.5737 .2378-.623Q.293-.6724 .3159-.7188H.3726Z" transform="translate(252.46 118.52) scale(6.2)" fill="#4c4c4c"/><path d="M.3726 0H.2847V-.56Q.2529-.5298 .2014-.4995Q.1499-.4692 .1089-.4541V-.5391Q.1826-.5737 .2378-.623Q.293-.6724 .3159-.7188H.3726Z" transform="translate(260.46 118.52) scale(6.2)" fill="#4c4c4c"/><text x="270.81" y="48.48" font-size="6.2" text-anchor="middle" fill="#4c4c4c">69</text><text x="279.31" y="110.28" font-size="6.2" text-anchor="middle" fill="#4c4c4c">9</text><text x="287.82" y="112.34" font-size="6.2" text-anchor="middle" fill="#4c4c4c">7</text><text x="296.33" y="117.49" font-size="6.2" text-anchor="middle" fill="#4c4c4c">2</text><text x="304.84" y="117.49" font-size="6.2" text-anchor="middle" fill="#4c4c4c">2</text><path d="M.3726 0H.2847V-.56Q.2529-.5298 .2014-.4995Q.1499-.4692 .1089-.4541V-.5391Q.1826-.5737 .2378-.623Q.293-.6724 .3159-.7188H.3726Z" transform="translate(311.46 118.52) scale(6.2)" fill="#4c4c4c"/><path d="M.3726 0H.2847V-.56Q.2529-.5298 .2014-.4995Q.1499-.4692 .1089-.4541V-.5391Q.1826-.5737 .2378-.623Q.293-.6724 .3159-.7188H.3726Z" transform="translate(320.46 118.52) scale(6.2)" fill="#4c4c4c"/><path d="M.3726 0H.2847V-.56Q.2529-.5298 .2014-.4995Q.1499-.4692 .1089-.4541V-.5391Q.1826-.5737 .2378-.623Q.293-.6724 .3159-.7188H.3726Z" transform="translate(328.46 118.52) scale(6.2)" fill="#4c4c4c"/><path d="M.3726 0H.2847V-.56Q.2529-.5298 .2014-.4995Q.1499-.4692 .1089-.4541V-.5391Q.1826-.5737 .2378-.623Q.293-.6724 .3159-.7188H.3726Z" transform="translate(337.46 118.52) scale(6.2)" fill="#4c4c4c"/><path d="M.3726 0H.2847V-.56Q.2529-.5298 .2014-.4995Q.1499-.4692 .1089-.4541V-.5391Q.1826-.5737 .2378-.623Q.293-.6724 .3159-.7188H.3726Z" transform="translate(345.46 118.52) scale(6.2)" fill="#4c4c4c"/><path d="M.3726 0H.2847V-.56Q.2529-.5298 .2014-.4995Q.1499-.4692 .1089-.4541V-.5391Q.1826-.5737 .2378-.623Q.293-.6724 .3159-.7188H.3726Z" transform="translate(354.46 118.52) scale(6.2)" fill="#4c4c4c"/><path d="M.3726 0H.2847V-.56Q.2529-.5298 .2014-.4995Q.1499-.4692 .1089-.4541V-.5391Q.1826-.5737 .2378-.623Q.293-.6724 .3159-.7188H.3726Z" transform="translate(362.46 118.52) scale(6.2)" fill="#4c4c4c"/><path d="M.3726 0H.2847V-.56Q.2529-.5298 .2014-.4995Q.1499-.4692 .1089-.4541V-.5391Q.1826-.5737 .2378-.623Q.293-.6724 .3159-.7188H.3726Z" transform="translate(371.46 118.52) scale(6.2)" fill="#4c4c4c"/><path d="M.3726 0H.2847V-.56Q.2529-.5298 .2014-.4995Q.1499-.4692 .1089-.4541V-.5391Q.1826-.5737 .2378-.623Q.293-.6724 .3159-.7188H.3726Z" transform="translate(379.46 118.52) scale(6.2)" fill="#4c4c4c"/><path d="M.3726 0H.2847V-.56Q.2529-.5298 .2014-.4995Q.1499-.4692 .1089-.4541V-.5391Q.1826-.5737 .2378-.623Q.293-.6724 .3159-.7188H.3726Z" transform="translate(388.46 118.52) scale(6.2)" fill="#4c4c4c"/><path d="M.3726 0H.2847V-.56Q.2529-.5298 .2014-.4995Q.1499-.4692 .1089-.4541V-.5391Q.1826-.5737 .2378-.623Q.293-.6724 .3159-.7188H.3726Z" transform="translate(394.98 103.07) scale(6.2)" fill="#4c4c4c"/><text x="398.43" y="103.07" font-size="6.2" text-anchor="start" fill="#4c4c4c">6</text><path d="M.3726 0H.2847V-.56Q.2529-.5298 .2014-.4995Q.1499-.4692 .1089-.4541V-.5391Q.1826-.5737 .2378-.623Q.293-.6724 .3159-.7188H.3726Z" transform="translate(403.49 108.22) scale(6.2)" fill="#4c4c4c"/><path d="M.3726 0H.2847V-.56Q.2529-.5298 .2014-.4995Q.1499-.4692 .1089-.4541V-.5391Q.1826-.5737 .2378-.623Q.293-.6724 .3159-.7188H.3726Z" transform="translate(406.93 108.22) scale(6.2)" fill="#4c4c4c"/><text x="415.44" y="112.34" font-size="6.2" text-anchor="middle" fill="#4c4c4c">7</text><text x="423.95" y="115.43" font-size="6.2" text-anchor="middle" fill="#4c4c4c">4</text><text x="432.46" y="115.43" font-size="6.2" text-anchor="middle" fill="#4c4c4c">4</text><text x="440.97" y="116.46" font-size="6.2" text-anchor="middle" fill="#4c4c4c">3</text><text x="449.47" y="117.49" font-size="6.2" text-anchor="middle" fill="#4c4c4c">2</text><text x="457.98" y="117.49" font-size="6.2" text-anchor="middle" fill="#4c4c4c">2</text><text x="466.49" y="117.49" font-size="6.2" text-anchor="middle" fill="#4c4c4c">2</text><text x="475" y="117.49" font-size="6.2" text-anchor="middle" fill="#4c4c4c">2</text><path d="M.3726 0H.2847V-.56Q.2529-.5298 .2014-.4995Q.1499-.4692 .1089-.4541V-.5391Q.1826-.5737 .2378-.623Q.293-.6724 .3159-.7188H.3726Z" transform="translate(481.46 118.52) scale(6.2)" fill="#4c4c4c"/><path d="M.3726 0H.2847V-.56Q.2529-.5298 .2014-.4995Q.1499-.4692 .1089-.4541V-.5391Q.1826-.5737 .2378-.623Q.293-.6724 .3159-.7188H.3726Z" transform="translate(490.46 118.52) scale(6.2)" fill="#4c4c4c"/><path d="M.3726 0H.2847V-.56Q.2529-.5298 .2014-.4995Q.1499-.4692 .1089-.4541V-.5391Q.1826-.5737 .2378-.623Q.293-.6724 .3159-.7188H.3726Z" transform="translate(498.46 118.52) scale(6.2)" fill="#4c4c4c"/><path d="M.3726 0H.2847V-.56Q.2529-.5298 .2014-.4995Q.1499-.4692 .1089-.4541V-.5391Q.1826-.5737 .2378-.623Q.293-.6724 .3159-.7188H.3726Z" transform="translate(507.46 118.52) scale(6.2)" fill="#4c4c4c"/><path d="M.3726 0H.2847V-.56Q.2529-.5298 .2014-.4995Q.1499-.4692 .1089-.4541V-.5391Q.1826-.5737 .2378-.623Q.293-.6724 .3159-.7188H.3726Z" transform="translate(515.46 118.52) scale(6.2)" fill="#4c4c4c"/><path d="M.3726 0H.2847V-.56Q.2529-.5298 .2014-.4995Q.1499-.4692 .1089-.4541V-.5391Q.1826-.5737 .2378-.623Q.293-.6724 .3159-.7188H.3726Z" transform="translate(524.46 118.52) scale(6.2)" fill="#4c4c4c"/><path d="M.3726 0H.2847V-.56Q.2529-.5298 .2014-.4995Q.1499-.4692 .1089-.4541V-.5391Q.1826-.5737 .2378-.623Q.293-.6724 .3159-.7188H.3726Z" transform="translate(532.46 118.52) scale(6.2)" fill="#4c4c4c"/><text x="543.06" y="117.49" font-size="6.2" text-anchor="middle" fill="#4c4c4c">2</text><path d="M.3726 0H.2847V-.56Q.2529-.5298 .2014-.4995Q.1499-.4692 .1089-.4541V-.5391Q.1826-.5737 .2378-.623Q.293-.6724 .3159-.7188H.3726Z" transform="translate(549.46 118.52) scale(6.2)" fill="#4c4c4c"/><path d="M.3726 0H.2847V-.56Q.2529-.5298 .2014-.4995Q.1499-.4692 .1089-.4541V-.5391Q.1826-.5737 .2378-.623Q.293-.6724 .3159-.7188H.3726Z" transform="translate(558.46 118.52) scale(6.2)" fill="#4c4c4c"/><path d="M.3726 0H.2847V-.56Q.2529-.5298 .2014-.4995Q.1499-.4692 .1089-.4541V-.5391Q.1826-.5737 .2378-.623Q.293-.6724 .3159-.7188H.3726Z" transform="translate(566.46 118.52) scale(6.2)" fill="#4c4c4c"/><path d="M.3726 0H.2847V-.56Q.2529-.5298 .2014-.4995Q.1499-.4692 .1089-.4541V-.5391Q.1826-.5737 .2378-.623Q.293-.6724 .3159-.7188H.3726Z" transform="translate(575.46 118.52) scale(6.2)" fill="#4c4c4c"/><path d="M.3726 0H.2847V-.56Q.2529-.5298 .2014-.4995Q.1499-.4692 .1089-.4541V-.5391Q.1826-.5737 .2378-.623Q.293-.6724 .3159-.7188H.3726Z" transform="translate(583.46 118.52) scale(6.2)" fill="#4c4c4c"/><path d="M.3726 0H.2847V-.56Q.2529-.5298 .2014-.4995Q.1499-.4692 .1089-.4541V-.5391Q.1826-.5737 .2378-.623Q.293-.6724 .3159-.7188H.3726Z" transform="translate(592.46 118.52) scale(6.2)" fill="#4c4c4c"/><path d="M.3726 0H.2847V-.56Q.2529-.5298 .2014-.4995Q.1499-.4692 .1089-.4541V-.5391Q.1826-.5737 .2378-.623Q.293-.6724 .3159-.7188H.3726Z" transform="translate(600.46 118.52) scale(6.2)" fill="#4c4c4c"/><path d="M.3726 0H.2847V-.56Q.2529-.5298 .2014-.4995Q.1499-.4692 .1089-.4541V-.5391Q.1826-.5737 .2378-.623Q.293-.6724 .3159-.7188H.3726Z" transform="translate(609.46 118.52) scale(6.2)" fill="#4c4c4c"/><path d="M.3726 0H.2847V-.56Q.2529-.5298 .2014-.4995Q.1499-.4692 .1089-.4541V-.5391Q.1826-.5737 .2378-.623Q.293-.6724 .3159-.7188H.3726Z" transform="translate(617.46 118.52) scale(6.2)" fill="#4c4c4c"/><path d="M.3726 0H.2847V-.56Q.2529-.5298 .2014-.4995Q.1499-.4692 .1089-.4541V-.5391Q.1826-.5737 .2378-.623Q.293-.6724 .3159-.7188H.3726Z" transform="translate(626.46 118.52) scale(6.2)" fill="#4c4c4c"/><path d="M.3726 0H.2847V-.56Q.2529-.5298 .2014-.4995Q.1499-.4692 .1089-.4541V-.5391Q.1826-.5737 .2378-.623Q.293-.6724 .3159-.7188H.3726Z" transform="translate(634.46 118.52) scale(6.2)" fill="#4c4c4c"/><path d="M.3726 0H.2847V-.56Q.2529-.5298 .2014-.4995Q.1499-.4692 .1089-.4541V-.5391Q.1826-.5737 .2378-.623Q.293-.6724 .3159-.7188H.3726Z" transform="translate(643.46 118.52) scale(6.2)" fill="#4c4c4c"/><path d="M.3726 0H.2847V-.56Q.2529-.5298 .2014-.4995Q.1499-.4692 .1089-.4541V-.5391Q.1826-.5737 .2378-.623Q.293-.6724 .3159-.7188H.3726Z" transform="translate(651.46 118.52) scale(6.2)" fill="#4c4c4c"/><text x="662.17" y="117.49" font-size="6.2" text-anchor="middle" fill="#4c4c4c">2</text><path d="M.3726 0H.2847V-.56Q.2529-.5298 .2014-.4995Q.1499-.4692 .1089-.4541V-.5391Q.1826-.5737 .2378-.623Q.293-.6724 .3159-.7188H.3726Z" transform="translate(668.46 118.52) scale(6.2)" fill="#4c4c4c"/><path d="M.3726 0H.2847V-.56Q.2529-.5298 .2014-.4995Q.1499-.4692 .1089-.4541V-.5391Q.1826-.5737 .2378-.623Q.293-.6724 .3159-.7188H.3726Z" transform="translate(677.46 118.52) scale(6.2)" fill="#4c4c4c"/><path d="M.3726 0H.2847V-.56Q.2529-.5298 .2014-.4995Q.1499-.4692 .1089-.4541V-.5391Q.1826-.5737 .2378-.623Q.293-.6724 .3159-.7188H.3726Z" transform="translate(686.46 118.52) scale(6.2)" fill="#4c4c4c"/><path d="M.3726 0H.2847V-.56Q.2529-.5298 .2014-.4995Q.1499-.4692 .1089-.4541V-.5391Q.1826-.5737 .2378-.623Q.293-.6724 .3159-.7188H.3726Z" transform="translate(694.46 118.52) scale(6.2)" fill="#4c4c4c"/><path d="M.3726 0H.2847V-.56Q.2529-.5298 .2014-.4995Q.1499-.4692 .1089-.4541V-.5391Q.1826-.5737 .2378-.623Q.293-.6724 .3159-.7188H.3726Z" transform="translate(703.46 118.52) scale(6.2)" fill="#4c4c4c"/><text x="713.22" y="117.49" font-size="6.2" text-anchor="middle" fill="#4c4c4c">2</text><path d="M.3726 0H.2847V-.56Q.2529-.5298 .2014-.4995Q.1499-.4692 .1089-.4541V-.5391Q.1826-.5737 .2378-.623Q.293-.6724 .3159-.7188H.3726Z" transform="translate(720.46 118.52) scale(6.2)" fill="#4c4c4c"/><path d="M.3726 0H.2847V-.56Q.2529-.5298 .2014-.4995Q.1499-.4692 .1089-.4541V-.5391Q.1826-.5737 .2378-.623Q.293-.6724 .3159-.7188H.3726Z" transform="translate(728.46 118.52) scale(6.2)" fill="#4c4c4c"/></g>
<path d="M207 4.5V121.4" stroke="#6e6e6e" stroke-width="0.9" fill="none"/>
<path d="M204.4 121.4H207" stroke="#333" stroke-width="0.7" fill="none"/>
<text x="200.5" y="124.1" font-size="7.8" text-anchor="end" fill="#000" class="tk">0</text>
<path d="M204.4 69.9H207" stroke="#333" stroke-width="0.7" fill="none"/>
<text x="200.5" y="72.6" font-size="7.8" text-anchor="end" fill="#000" class="tk">50</text>
<path d="M204.4 18.4H207" stroke="#333" stroke-width="0.7" fill="none"/>
<path d="M.3726 0H.2847V-.56Q.2529-.5298 .2014-.4995Q.1499-.4692 .1089-.4541V-.5391Q.1826-.5737 .2378-.623Q.293-.6724 .3159-.7188H.3726Z" transform="translate(187.48 21.1) scale(7.8)" fill="#000" class="tk"/><text x="191.82" y="21.1" font-size="7.8" text-anchor="start" fill="#000" class="tk">0</text><text x="196.16" y="21.1" font-size="7.8" text-anchor="start" fill="#000" class="tk">0</text>
<text transform="translate(184.5 63.5) rotate(-90)" font-size="9.1" text-anchor="middle" fill="#000">PPI intersection size</text>
<text x="149.0" y="131.95" font-size="8.2" text-anchor="middle" fill="#000">Chen et al.</text>
<text x="149.0" y="141.93" font-size="8.2" text-anchor="middle" fill="#000">Li et al.</text>
<text x="149.0" y="151.91" font-size="8.2" text-anchor="middle" fill="#000">St−Germain et al.</text>
<text x="149.0" y="161.89" font-size="8.2" text-anchor="middle" fill="#000">Stukalov et al.</text>
<text x="149.0" y="171.87" font-size="8.2" text-anchor="middle" fill="#000">Laurent et al.</text>
<text x="149.0" y="181.85" font-size="8.2" text-anchor="middle" fill="#000">Liu et al.</text>
<text x="149.0" y="191.83" font-size="8.2" text-anchor="middle" fill="#000">Samavarchi−Tehrani et al.</text>
<text x="149.0" y="201.81" font-size="8.2" text-anchor="middle" fill="#000">Original analysis</text>
<text x="149.0" y="211.79" font-size="8.2" text-anchor="middle" fill="#000">Bittremieux et al.</text>
<text x="149.0" y="221.77" font-size="8.2" text-anchor="middle" fill="#000">Reanalysis</text>
<rect x="89.7" y="125.8" width="3.8" height="6.7" fill="#1a1a1a"/>
<rect x="89.1" y="135.78" width="4.4" height="6.7" fill="#1a1a1a"/>
<rect x="88.8" y="145.76" width="4.7" height="6.7" fill="#1a1a1a"/>
<rect x="88" y="155.74" width="5.5" height="6.7" fill="#1a1a1a"/>
<rect x="85.1" y="165.72" width="8.4" height="6.7" fill="#1a1a1a"/>
<rect x="81.7" y="175.7" width="11.8" height="6.7" fill="#1a1a1a"/>
<rect x="78.9" y="185.68" width="14.6" height="6.7" fill="#1a1a1a"/>
<rect x="56.2" y="195.66" width="37.3" height="6.7" fill="#1a1a1a"/>
<rect x="34.3" y="205.64" width="59.2" height="6.7" fill="#1a1a1a"/>
<rect x="9.4" y="215.62" width="84.1" height="6.7" fill="#1a1a1a"/>
<path d="M5.1 223.2H93.3" stroke="#6e6e6e" stroke-width="0.9" fill="none"/>
<path d="M93.1 223.2v3" stroke="#444" stroke-width="0.7" fill="none"/>
<text x="93.1" y="236.1" font-size="7.8" text-anchor="middle" fill="#000" class="tk">0</text>
<text x="49" y="244.7" font-size="9.1" text-anchor="middle" fill="#000">Set size</text>
<rect x="208" y="398.54" width="526.3" height="14.17" fill="#f2f2f2"/>
<rect x="208" y="426.88" width="526.3" height="14.17" fill="#f2f2f2"/>
<rect x="208" y="455.21" width="526.3" height="14.17" fill="#f2f2f2"/>
<g fill="#dadada"><circle cx="212.25" cy="391.45" r="3.3"/><circle cx="212.25" cy="405.62" r="3.3"/><circle cx="212.25" cy="419.79" r="3.3"/><circle cx="212.25" cy="433.96" r="3.3"/><circle cx="212.25" cy="448.13" r="3.3"/><circle cx="221.49" cy="391.45" r="3.3"/><circle cx="221.49" cy="405.62" r="3.3"/><circle cx="221.49" cy="419.79" r="3.3"/><circle cx="221.49" cy="433.96" r="3.3"/><circle cx="221.49" cy="462.3" r="3.3"/><circle cx="230.74" cy="391.45" r="3.3"/><circle cx="230.74" cy="405.62" r="3.3"/><circle cx="230.74" cy="433.96" r="3.3"/><circle cx="230.74" cy="448.13" r="3.3"/><circle cx="230.74" cy="462.3" r="3.3"/><circle cx="239.98" cy="391.45" r="3.3"/><circle cx="239.98" cy="405.62" r="3.3"/><circle cx="239.98" cy="419.79" r="3.3"/><circle cx="239.98" cy="448.13" r="3.3"/><circle cx="239.98" cy="462.3" r="3.3"/><circle cx="249.22" cy="391.45" r="3.3"/><circle cx="249.22" cy="419.79" r="3.3"/><circle cx="249.22" cy="433.96" r="3.3"/><circle cx="249.22" cy="448.13" r="3.3"/><circle cx="249.22" cy="462.3" r="3.3"/><circle cx="258.47" cy="405.62" r="3.3"/><circle cx="258.47" cy="419.79" r="3.3"/><circle cx="258.47" cy="433.96" r="3.3"/><circle cx="258.47" cy="448.13" r="3.3"/><circle cx="258.47" cy="462.3" r="3.3"/><circle cx="267.71" cy="391.45" r="3.3"/><circle cx="267.71" cy="405.62" r="3.3"/><circle cx="267.71" cy="419.79" r="3.3"/><circle cx="267.71" cy="433.96" r="3.3"/><circle cx="276.95" cy="391.45" r="3.3"/><circle cx="276.95" cy="405.62" r="3.3"/><circle cx="276.95" cy="433.96" r="3.3"/><circle cx="276.95" cy="448.13" r="3.3"/><circle cx="286.19" cy="391.45" r="3.3"/><circle cx="286.19" cy="405.62" r="3.3"/><circle cx="286.19" cy="433.96" r="3.3"/><circle cx="286.19" cy="462.3" r="3.3"/><circle cx="295.44" cy="391.45" r="3.3"/><circle cx="295.44" cy="433.96" r="3.3"/><circle cx="295.44" cy="448.13" r="3.3"/><circle cx="295.44" cy="462.3" r="3.3"/><circle cx="304.68" cy="391.45" r="3.3"/><circle cx="304.68" cy="405.62" r="3.3"/><circle cx="304.68" cy="419.79" r="3.3"/><circle cx="304.68" cy="462.3" r="3.3"/><circle cx="313.92" cy="391.45" r="3.3"/><circle cx="313.92" cy="405.62" r="3.3"/><circle cx="313.92" cy="448.13" r="3.3"/><circle cx="313.92" cy="462.3" r="3.3"/><circle cx="323.17" cy="391.45" r="3.3"/><circle cx="323.17" cy="419.79" r="3.3"/><circle cx="323.17" cy="433.96" r="3.3"/><circle cx="323.17" cy="448.13" r="3.3"/><circle cx="332.41" cy="391.45" r="3.3"/><circle cx="332.41" cy="405.62" r="3.3"/><circle cx="332.41" cy="419.79" r="3.3"/><circle cx="332.41" cy="448.13" r="3.3"/><circle cx="341.65" cy="405.62" r="3.3"/><circle cx="341.65" cy="419.79" r="3.3"/><circle cx="341.65" cy="433.96" r="3.3"/><circle cx="341.65" cy="462.3" r="3.3"/><circle cx="350.89" cy="405.62" r="3.3"/><circle cx="350.89" cy="419.79" r="3.3"/><circle cx="350.89" cy="433.96" r="3.3"/><circle cx="350.89" cy="448.13" r="3.3"/><circle cx="360.14" cy="405.62" r="3.3"/><circle cx="360.14" cy="419.79" r="3.3"/><circle cx="360.14" cy="448.13" r="3.3"/><circle cx="360.14" cy="462.3" r="3.3"/><circle cx="369.38" cy="391.45" r="3.3"/><circle cx="369.38" cy="419.79" r="3.3"/><circle cx="369.38" cy="433.96" r="3.3"/><circle cx="369.38" cy="462.3" r="3.3"/><circle cx="378.62" cy="391.45" r="3.3"/><circle cx="378.62" cy="419.79" r="3.3"/><circle cx="378.62" cy="448.13" r="3.3"/><circle cx="378.62" cy="462.3" r="3.3"/><circle cx="387.87" cy="405.62" r="3.3"/><circle cx="387.87" cy="433.96" r="3.3"/><circle cx="387.87" cy="448.13" r="3.3"/><circle cx="387.87" cy="462.3" r="3.3"/><circle cx="397.11" cy="391.45" r="3.3"/><circle cx="397.11" cy="433.96" r="3.3"/><circle cx="397.11" cy="448.13" r="3.3"/><circle cx="406.35" cy="391.45" r="3.3"/><circle cx="406.35" cy="405.62" r="3.3"/><circle cx="406.35" cy="419.79" r="3.3"/><circle cx="415.6" cy="405.62" r="3.3"/><circle cx="415.6" cy="419.79" r="3.3"/><circle cx="415.6" cy="433.96" r="3.3"/><circle cx="424.84" cy="391.45" r="3.3"/><circle cx="424.84" cy="448.13" r="3.3"/><circle cx="424.84" cy="462.3" r="3.3"/><circle cx="434.08" cy="391.45" r="3.3"/><circle cx="434.08" cy="405.62" r="3.3"/><circle cx="434.08" cy="433.96" r="3.3"/><circle cx="443.33" cy="391.45" r="3.3"/><circle cx="443.33" cy="419.79" r="3.3"/><circle cx="443.33" cy="448.13" r="3.3"/><circle cx="452.57" cy="419.79" r="3.3"/><circle cx="452.57" cy="448.13" r="3.3"/><circle cx="452.57" cy="462.3" r="3.3"/><circle cx="461.81" cy="391.45" r="3.3"/><circle cx="461.81" cy="405.62" r="3.3"/><circle cx="461.81" cy="448.13" r="3.3"/><circle cx="471.05" cy="405.62" r="3.3"/><circle cx="471.05" cy="448.13" r="3.3"/><circle cx="471.05" cy="462.3" r="3.3"/><circle cx="480.3" cy="405.62" r="3.3"/><circle cx="480.3" cy="419.79" r="3.3"/><circle cx="480.3" cy="462.3" r="3.3"/><circle cx="489.54" cy="391.45" r="3.3"/><circle cx="489.54" cy="405.62" r="3.3"/><circle cx="489.54" cy="462.3" r="3.3"/><circle cx="498.78" cy="405.62" r="3.3"/><circle cx="498.78" cy="433.96" r="3.3"/><circle cx="498.78" cy="462.3" r="3.3"/><circle cx="508.03" cy="405.62" r="3.3"/><circle cx="508.03" cy="433.96" r="3.3"/><circle cx="508.03" cy="448.13" r="3.3"/><circle cx="517.27" cy="405.62" r="3.3"/><circle cx="517.27" cy="419.79" r="3.3"/><circle cx="517.27" cy="448.13" r="3.3"/><circle cx="526.51" cy="433.96" r="3.3"/><circle cx="526.51" cy="448.13" r="3.3"/><circle cx="526.51" cy="462.3" r="3.3"/><circle cx="535.75" cy="419.79" r="3.3"/><circle cx="535.75" cy="433.96" r="3.3"/><circle cx="535.75" cy="462.3" r="3.3"/><circle cx="545" cy="419.79" r="3.3"/><circle cx="545" cy="433.96" r="3.3"/><circle cx="545" cy="448.13" r="3.3"/><circle cx="554.24" cy="391.45" r="3.3"/><circle cx="554.24" cy="419.79" r="3.3"/><circle cx="554.24" cy="433.96" r="3.3"/><circle cx="563.48" cy="405.62" r="3.3"/><circle cx="563.48" cy="419.79" r="3.3"/><circle cx="572.73" cy="391.45" r="3.3"/><circle cx="572.73" cy="433.96" r="3.3"/><circle cx="581.97" cy="419.79" r="3.3"/><circle cx="581.97" cy="433.96" r="3.3"/><circle cx="591.21" cy="419.79" r="3.3"/><circle cx="591.21" cy="448.13" r="3.3"/><circle cx="600.46" cy="391.45" r="3.3"/><circle cx="600.46" cy="419.79" r="3.3"/><circle cx="609.7" cy="405.62" r="3.3"/><circle cx="609.7" cy="448.13" r="3.3"/><circle cx="618.94" cy="391.45" r="3.3"/><circle cx="618.94" cy="448.13" r="3.3"/><circle cx="628.18" cy="391.45" r="3.3"/><circle cx="628.18" cy="405.62" r="3.3"/><circle cx="637.43" cy="433.96" r="3.3"/><circle cx="637.43" cy="448.13" r="3.3"/><circle cx="646.67" cy="448.13" r="3.3"/><circle cx="646.67" cy="462.3" r="3.3"/><circle cx="655.91" cy="405.62" r="3.3"/><circle cx="655.91" cy="433.96" r="3.3"/><circle cx="665.16" cy="405.62" r="3.3"/><circle cx="665.16" cy="462.3" r="3.3"/><circle cx="674.4" cy="419.79" r="3.3"/><circle cx="674.4" cy="462.3" r="3.3"/><circle cx="683.64" cy="391.45" r="3.3"/><circle cx="692.89" cy="419.79" r="3.3"/><circle cx="702.13" cy="405.62" r="3.3"/><circle cx="711.37" cy="433.96" r="3.3"/><circle cx="720.62" cy="462.3" r="3.3"/></g>
<path d="M267.71 448.13V462.3M276.95 419.79V462.3M286.19 419.79V448.13M295.44 405.62V419.79M304.68 433.96V448.13M313.92 419.79V433.96M323.17 405.62V462.3M332.41 433.96V462.3M341.65 391.45V448.13M350.89 391.45V462.3M360.14 391.45V433.96M369.38 405.62V448.13M378.62 405.62V433.96M387.87 391.45V419.79M397.11 405.62V462.3M406.35 433.96V462.3M415.6 391.45V462.3M424.84 405.62V433.96M434.08 419.79V462.3M443.33 405.62V462.3M452.57 391.45V433.96M461.81 419.79V462.3M471.05 391.45V433.96M480.3 391.45V448.13M489.54 419.79V448.13M498.78 391.45V448.13M508.03 391.45V462.3M517.27 391.45V462.3M526.51 391.45V419.79M535.75 391.45V448.13M545 391.45V462.3M554.24 405.62V462.3M563.48 391.45V462.3M572.73 405.62V462.3M581.97 391.45V462.3M591.21 391.45V462.3M600.46 405.62V462.3M609.7 391.45V462.3M618.94 405.62V462.3M628.18 419.79V462.3M637.43 391.45V462.3M646.67 391.45V433.96M655.91 391.45V462.3M665.16 391.45V448.13M674.4 391.45V448.13M683.64 405.62V462.3M692.89 391.45V462.3M702.13 391.45V462.3M711.37 391.45V462.3M720.62 391.45V448.13M729.86 391.45V462.3" stroke="#111" stroke-width="1.5" fill="none"/>
<g fill="#111"><circle cx="212.25" cy="462.3" r="3.25"/><circle cx="221.49" cy="448.13" r="3.25"/><circle cx="230.74" cy="419.79" r="3.25"/><circle cx="239.98" cy="433.96" r="3.25"/><circle cx="249.22" cy="405.62" r="3.25"/><circle cx="258.47" cy="391.45" r="3.25"/><circle cx="267.71" cy="448.13" r="3.25"/><circle cx="267.71" cy="462.3" r="3.25"/><circle cx="276.95" cy="419.79" r="3.25"/><circle cx="276.95" cy="462.3" r="3.25"/><circle cx="286.19" cy="419.79" r="3.25"/><circle cx="286.19" cy="448.13" r="3.25"/><circle cx="295.44" cy="405.62" r="3.25"/><circle cx="295.44" cy="419.79" r="3.25"/><circle cx="304.68" cy="433.96" r="3.25"/><circle cx="304.68" cy="448.13" r="3.25"/><circle cx="313.92" cy="419.79" r="3.25"/><circle cx="313.92" cy="433.96" r="3.25"/><circle cx="323.17" cy="405.62" r="3.25"/><circle cx="323.17" cy="462.3" r="3.25"/><circle cx="332.41" cy="433.96" r="3.25"/><circle cx="332.41" cy="462.3" r="3.25"/><circle cx="341.65" cy="391.45" r="3.25"/><circle cx="341.65" cy="448.13" r="3.25"/><circle cx="350.89" cy="391.45" r="3.25"/><circle cx="350.89" cy="462.3" r="3.25"/><circle cx="360.14" cy="391.45" r="3.25"/><circle cx="360.14" cy="433.96" r="3.25"/><circle cx="369.38" cy="405.62" r="3.25"/><circle cx="369.38" cy="448.13" r="3.25"/><circle cx="378.62" cy="405.62" r="3.25"/><circle cx="378.62" cy="433.96" r="3.25"/><circle cx="387.87" cy="391.45" r="3.25"/><circle cx="387.87" cy="419.79" r="3.25"/><circle cx="397.11" cy="405.62" r="3.25"/><circle cx="397.11" cy="419.79" r="3.25"/><circle cx="397.11" cy="462.3" r="3.25"/><circle cx="406.35" cy="433.96" r="3.25"/><circle cx="406.35" cy="448.13" r="3.25"/><circle cx="406.35" cy="462.3" r="3.25"/><circle cx="415.6" cy="391.45" r="3.25"/><circle cx="415.6" cy="448.13" r="3.25"/><circle cx="415.6" cy="462.3" r="3.25"/><circle cx="424.84" cy="405.62" r="3.25"/><circle cx="424.84" cy="419.79" r="3.25"/><circle cx="424.84" cy="433.96" r="3.25"/><circle cx="434.08" cy="419.79" r="3.25"/><circle cx="434.08" cy="448.13" r="3.25"/><circle cx="434.08" cy="462.3" r="3.25"/><circle cx="443.33" cy="405.62" r="3.25"/><circle cx="443.33" cy="433.96" r="3.25"/><circle cx="443.33" cy="462.3" r="3.25"/><circle cx="452.57" cy="391.45" r="3.25"/><circle cx="452.57" cy="405.62" r="3.25"/><circle cx="452.57" cy="433.96" r="3.25"/><circle cx="461.81" cy="419.79" r="3.25"/><circle cx="461.81" cy="433.96" r="3.25"/><circle cx="461.81" cy="462.3" r="3.25"/><circle cx="471.05" cy="391.45" r="3.25"/><circle cx="471.05" cy="419.79" r="3.25"/><circle cx="471.05" cy="433.96" r="3.25"/><circle cx="480.3" cy="391.45" r="3.25"/><circle cx="480.3" cy="433.96" r="3.25"/><circle cx="480.3" cy="448.13" r="3.25"/><circle cx="489.54" cy="419.79" r="3.25"/><circle cx="489.54" cy="433.96" r="3.25"/><circle cx="489.54" cy="448.13" r="3.25"/><circle cx="498.78" cy="391.45" r="3.25"/><circle cx="498.78" cy="419.79" r="3.25"/><circle cx="498.78" cy="448.13" r="3.25"/><circle cx="508.03" cy="391.45" r="3.25"/><circle cx="508.03" cy="419.79" r="3.25"/><circle cx="508.03" cy="462.3" r="3.25"/><circle cx="517.27" cy="391.45" r="3.25"/><circle cx="517.27" cy="433.96" r="3.25"/><circle cx="517.27" cy="462.3" r="3.25"/><circle cx="526.51" cy="391.45" r="3.25"/><circle cx="526.51" cy="405.62" r="3.25"/><circle cx="526.51" cy="419.79" r="3.25"/><circle cx="535.75" cy="391.45" r="3.25"/><circle cx="535.75" cy="405.62" r="3.25"/><circle cx="535.75" cy="448.13" r="3.25"/><circle cx="545" cy="391.45" r="3.25"/><circle cx="545" cy="405.62" r="3.25"/><circle cx="545" cy="462.3" r="3.25"/><circle cx="554.24" cy="405.62" r="3.25"/><circle cx="554.24" cy="448.13" r="3.25"/><circle cx="554.24" cy="462.3" r="3.25"/><circle cx="563.48" cy="391.45" r="3.25"/><circle cx="563.48" cy="433.96" r="3.25"/><circle cx="563.48" cy="448.13" r="3.25"/><circle cx="563.48" cy="462.3" r="3.25"/><circle cx="572.73" cy="405.62" r="3.25"/><circle cx="572.73" cy="419.79" r="3.25"/><circle cx="572.73" cy="448.13" r="3.25"/><circle cx="572.73" cy="462.3" r="3.25"/><circle cx="581.97" cy="391.45" r="3.25"/><circle cx="581.97" cy="405.62" r="3.25"/><circle cx="581.97" cy="448.13" r="3.25"/><circle cx="581.97" cy="462.3" r="3.25"/><circle cx="591.21" cy="391.45" r="3.25"/><circle cx="591.21" cy="405.62" r="3.25"/><circle cx="591.21" cy="433.96" r="3.25"/><circle cx="591.21" cy="462.3" r="3.25"/><circle cx="600.46" cy="405.62" r="3.25"/><circle cx="600.46" cy="433.96" r="3.25"/><circle cx="600.46" cy="448.13" r="3.25"/><circle cx="600.46" cy="462.3" r="3.25"/><circle cx="609.7" cy="391.45" r="3.25"/><circle cx="609.7" cy="419.79" r="3.25"/><circle cx="609.7" cy="433.96" r="3.25"/><circle cx="609.7" cy="462.3" r="3.25"/><circle cx="618.94" cy="405.62" r="3.25"/><circle cx="618.94" cy="419.79" r="3.25"/><circle cx="618.94" cy="433.96" r="3.25"/><circle cx="618.94" cy="462.3" r="3.25"/><circle cx="628.18" cy="419.79" r="3.25"/><circle cx="628.18" cy="433.96" r="3.25"/><circle cx="628.18" cy="448.13" r="3.25"/><circle cx="628.18" cy="462.3" r="3.25"/><circle cx="637.43" cy="391.45" r="3.25"/><circle cx="637.43" cy="405.62" r="3.25"/><circle cx="637.43" cy="419.79" r="3.25"/><circle cx="637.43" cy="462.3" r="3.25"/><circle cx="646.67" cy="391.45" r="3.25"/><circle cx="646.67" cy="405.62" r="3.25"/><circle cx="646.67" cy="419.79" r="3.25"/><circle cx="646.67" cy="433.96" r="3.25"/><circle cx="655.91" cy="391.45" r="3.25"/><circle cx="655.91" cy="419.79" r="3.25"/><circle cx="655.91" cy="448.13" r="3.25"/><circle cx="655.91" cy="462.3" r="3.25"/><circle cx="665.16" cy="391.45" r="3.25"/><circle cx="665.16" cy="419.79" r="3.25"/><circle cx="665.16" cy="433.96" r="3.25"/><circle cx="665.16" cy="448.13" r="3.25"/><circle cx="674.4" cy="391.45" r="3.25"/><circle cx="674.4" cy="405.62" r="3.25"/><circle cx="674.4" cy="433.96" r="3.25"/><circle cx="674.4" cy="448.13" r="3.25"/><circle cx="683.64" cy="405.62" r="3.25"/><circle cx="683.64" cy="419.79" r="3.25"/><circle cx="683.64" cy="433.96" r="3.25"/><circle cx="683.64" cy="448.13" r="3.25"/><circle cx="683.64" cy="462.3" r="3.25"/><circle cx="692.89" cy="391.45" r="3.25"/><circle cx="692.89" cy="405.62" r="3.25"/><circle cx="692.89" cy="433.96" r="3.25"/><circle cx="692.89" cy="448.13" r="3.25"/><circle cx="692.89" cy="462.3" r="3.25"/><circle cx="702.13" cy="391.45" r="3.25"/><circle cx="702.13" cy="419.79" r="3.25"/><circle cx="702.13" cy="433.96" r="3.25"/><circle cx="702.13" cy="448.13" r="3.25"/><circle cx="702.13" cy="462.3" r="3.25"/><circle cx="711.37" cy="391.45" r="3.25"/><circle cx="711.37" cy="405.62" r="3.25"/><circle cx="711.37" cy="419.79" r="3.25"/><circle cx="711.37" cy="448.13" r="3.25"/><circle cx="711.37" cy="462.3" r="3.25"/><circle cx="720.62" cy="391.45" r="3.25"/><circle cx="720.62" cy="405.62" r="3.25"/><circle cx="720.62" cy="419.79" r="3.25"/><circle cx="720.62" cy="433.96" r="3.25"/><circle cx="720.62" cy="448.13" r="3.25"/><circle cx="729.86" cy="391.45" r="3.25"/><circle cx="729.86" cy="405.62" r="3.25"/><circle cx="729.86" cy="419.79" r="3.25"/><circle cx="729.86" cy="433.96" r="3.25"/><circle cx="729.86" cy="448.13" r="3.25"/><circle cx="729.86" cy="462.3" r="3.25"/></g>
<g fill="#1a1a1a" stroke="#1a1a1a" stroke-width="0.6"><rect x="209.35" y="280" width="5.8" height="101.4"/><rect x="218.59" y="307.3" width="5.8" height="74.1"/><rect x="227.84" y="311.2" width="5.8" height="70.2"/><rect x="237.08" y="330.7" width="5.8" height="50.7"/><rect x="246.32" y="358" width="5.8" height="23.4"/><rect x="255.57" y="373.6" width="5.8" height="7.8"/><rect x="264.81" y="330.7" width="5.8" height="50.7"/><rect x="274.05" y="338.5" width="5.8" height="42.9"/><rect x="283.29" y="346.3" width="5.8" height="35.1"/><rect x="292.54" y="350.2" width="5.8" height="31.2"/><rect x="301.78" y="350.2" width="5.8" height="31.2"/><rect x="311.02" y="354.1" width="5.8" height="27.3"/><rect x="320.27" y="354.1" width="5.8" height="27.3"/><rect x="329.51" y="354.1" width="5.8" height="27.3"/><rect x="338.75" y="361.9" width="5.8" height="19.5"/><rect x="348" y="361.9" width="5.8" height="19.5"/><rect x="357.24" y="365.8" width="5.8" height="15.6"/><rect x="366.48" y="365.8" width="5.8" height="15.6"/><rect x="375.72" y="369.7" width="5.8" height="11.7"/><rect x="384.97" y="373.6" width="5.8" height="7.8"/><rect x="394.21" y="342.4" width="5.8" height="39"/><rect x="403.45" y="354.1" width="5.8" height="27.3"/><rect x="412.7" y="358" width="5.8" height="23.4"/><rect x="421.94" y="361.9" width="5.8" height="19.5"/><rect x="431.18" y="361.9" width="5.8" height="19.5"/><rect x="440.43" y="361.9" width="5.8" height="19.5"/><rect x="449.67" y="365.8" width="5.8" height="15.6"/><rect x="458.91" y="365.8" width="5.8" height="15.6"/><rect x="468.15" y="369.7" width="5.8" height="11.7"/><rect x="477.4" y="369.7" width="5.8" height="11.7"/><rect x="486.64" y="369.7" width="5.8" height="11.7"/><rect x="495.88" y="373.6" width="5.8" height="7.8"/><rect x="505.13" y="373.6" width="5.8" height="7.8"/><rect x="514.37" y="373.6" width="5.8" height="7.8"/><rect x="523.61" y="377.5" width="5.8" height="3.9"/><rect x="532.86" y="377.5" width="5.8" height="3.9"/><rect x="542.1" y="377.5" width="5.8" height="3.9"/><rect x="551.34" y="377.5" width="5.8" height="3.9"/><rect x="560.58" y="346.3" width="5.8" height="35.1"/><rect x="569.83" y="346.3" width="5.8" height="35.1"/><rect x="579.07" y="361.9" width="5.8" height="19.5"/><rect x="588.31" y="365.8" width="5.8" height="15.6"/><rect x="597.56" y="365.8" width="5.8" height="15.6"/><rect x="606.8" y="373.6" width="5.8" height="7.8"/><rect x="616.04" y="373.6" width="5.8" height="7.8"/><rect x="625.28" y="373.6" width="5.8" height="7.8"/><rect x="634.53" y="377.5" width="5.8" height="3.9"/><rect x="643.77" y="377.5" width="5.8" height="3.9"/><rect x="653.01" y="377.5" width="5.8" height="3.9"/><rect x="662.26" y="377.5" width="5.8" height="3.9"/><rect x="671.5" y="377.5" width="5.8" height="3.9"/><rect x="680.74" y="330.7" width="5.8" height="50.7"/><rect x="689.99" y="350.2" width="5.8" height="31.2"/><rect x="699.23" y="369.7" width="5.8" height="11.7"/><rect x="708.47" y="373.6" width="5.8" height="7.8"/><rect x="717.72" y="377.5" width="5.8" height="3.9"/><rect x="726.96" y="346.3" width="5.8" height="35.1"/></g>
<g class="lb" fill="#4c4c4c" font-size="6.4" text-anchor="middle"><text x="212.25" y="278.2" font-size="6.4" text-anchor="middle" fill="#4c4c4c">26</text><path d="M.3726 0H.2847V-.56Q.2529-.5298 .2014-.4995Q.1499-.4692 .1089-.4541V-.5391Q.1826-.5737 .2378-.623Q.293-.6724 .3159-.7188H.3726Z" transform="translate(217.93 305.5) scale(6.4)" fill="#4c4c4c"/><text x="221.49" y="305.5" font-size="6.4" text-anchor="start" fill="#4c4c4c">9</text><path d="M.3726 0H.2847V-.56Q.2529-.5298 .2014-.4995Q.1499-.4692 .1089-.4541V-.5391Q.1826-.5737 .2378-.623Q.293-.6724 .3159-.7188H.3726Z" transform="translate(227.18 309.4) scale(6.4)" fill="#4c4c4c"/><text x="230.74" y="309.4" font-size="6.4" text-anchor="start" fill="#4c4c4c">8</text><path d="M.3726 0H.2847V-.56Q.2529-.5298 .2014-.4995Q.1499-.4692 .1089-.4541V-.5391Q.1826-.5737 .2378-.623Q.293-.6724 .3159-.7188H.3726Z" transform="translate(236.42 328.9) scale(6.4)" fill="#4c4c4c"/><text x="239.98" y="328.9" font-size="6.4" text-anchor="start" fill="#4c4c4c">3</text><text x="249.22" y="356.2" font-size="6.4" text-anchor="middle" fill="#4c4c4c">6</text><text x="258.47" y="371.8" font-size="6.4" text-anchor="middle" fill="#4c4c4c">2</text><path d="M.3726 0H.2847V-.56Q.2529-.5298 .2014-.4995Q.1499-.4692 .1089-.4541V-.5391Q.1826-.5737 .2378-.623Q.293-.6724 .3159-.7188H.3726Z" transform="translate(264.15 328.9) scale(6.4)" fill="#4c4c4c"/><text x="267.71" y="328.9" font-size="6.4" text-anchor="start" fill="#4c4c4c">3</text><path d="M.3726 0H.2847V-.56Q.2529-.5298 .2014-.4995Q.1499-.4692 .1089-.4541V-.5391Q.1826-.5737 .2378-.623Q.293-.6724 .3159-.7188H.3726Z" transform="translate(273.39 336.7) scale(6.4)" fill="#4c4c4c"/><path d="M.3726 0H.2847V-.56Q.2529-.5298 .2014-.4995Q.1499-.4692 .1089-.4541V-.5391Q.1826-.5737 .2378-.623Q.293-.6724 .3159-.7188H.3726Z" transform="translate(276.95 336.7) scale(6.4)" fill="#4c4c4c"/><text x="286.19" y="344.5" font-size="6.4" text-anchor="middle" fill="#4c4c4c">9</text><text x="295.44" y="348.4" font-size="6.4" text-anchor="middle" fill="#4c4c4c">8</text><text x="304.68" y="348.4" font-size="6.4" text-anchor="middle" fill="#4c4c4c">8</text><text x="313.92" y="352.3" font-size="6.4" text-anchor="middle" fill="#4c4c4c">7</text><text x="323.17" y="352.3" font-size="6.4" text-anchor="middle" fill="#4c4c4c">7</text><text x="332.41" y="352.3" font-size="6.4" text-anchor="middle" fill="#4c4c4c">7</text><text x="341.65" y="360.1" font-size="6.4" text-anchor="middle" fill="#4c4c4c">5</text><text x="350.89" y="360.1" font-size="6.4" text-anchor="middle" fill="#4c4c4c">5</text><text x="360.14" y="364" font-size="6.4" text-anchor="middle" fill="#4c4c4c">4</text><text x="369.38" y="364" font-size="6.4" text-anchor="middle" fill="#4c4c4c">4</text><text x="378.62" y="367.9" font-size="6.4" text-anchor="middle" fill="#4c4c4c">3</text><text x="387.87" y="371.8" font-size="6.4" text-anchor="middle" fill="#4c4c4c">2</text><path d="M.3726 0H.2847V-.56Q.2529-.5298 .2014-.4995Q.1499-.4692 .1089-.4541V-.5391Q.1826-.5737 .2378-.623Q.293-.6724 .3159-.7188H.3726Z" transform="translate(393.55 340.6) scale(6.4)" fill="#4c4c4c"/><text x="397.11" y="340.6" font-size="6.4" text-anchor="start" fill="#4c4c4c">0</text><text x="406.35" y="352.3" font-size="6.4" text-anchor="middle" fill="#4c4c4c">7</text><text x="415.6" y="356.2" font-size="6.4" text-anchor="middle" fill="#4c4c4c">6</text><text x="424.84" y="360.1" font-size="6.4" text-anchor="middle" fill="#4c4c4c">5</text><text x="434.08" y="360.1" font-size="6.4" text-anchor="middle" fill="#4c4c4c">5</text><text x="443.33" y="360.1" font-size="6.4" text-anchor="middle" fill="#4c4c4c">5</text><text x="452.57" y="364" font-size="6.4" text-anchor="middle" fill="#4c4c4c">4</text><text x="461.81" y="364" font-size="6.4" text-anchor="middle" fill="#4c4c4c">4</text><text x="471.05" y="367.9" font-size="6.4" text-anchor="middle" fill="#4c4c4c">3</text><text x="480.3" y="367.9" font-size="6.4" text-anchor="middle" fill="#4c4c4c">3</text><text x="489.54" y="367.9" font-size="6.4" text-anchor="middle" fill="#4c4c4c">3</text><text x="498.78" y="371.8" font-size="6.4" text-anchor="middle" fill="#4c4c4c">2</text><text x="508.03" y="371.8" font-size="6.4" text-anchor="middle" fill="#4c4c4c">2</text><text x="517.27" y="371.8" font-size="6.4" text-anchor="middle" fill="#4c4c4c">2</text><path d="M.3726 0H.2847V-.56Q.2529-.5298 .2014-.4995Q.1499-.4692 .1089-.4541V-.5391Q.1826-.5737 .2378-.623Q.293-.6724 .3159-.7188H.3726Z" transform="translate(524.4 375.7) scale(6.4)" fill="#4c4c4c"/><path d="M.3726 0H.2847V-.56Q.2529-.5298 .2014-.4995Q.1499-.4692 .1089-.4541V-.5391Q.1826-.5737 .2378-.623Q.293-.6724 .3159-.7188H.3726Z" transform="translate(534.4 375.7) scale(6.4)" fill="#4c4c4c"/><path d="M.3726 0H.2847V-.56Q.2529-.5298 .2014-.4995Q.1499-.4692 .1089-.4541V-.5391Q.1826-.5737 .2378-.623Q.293-.6724 .3159-.7188H.3726Z" transform="translate(543.4 375.7) scale(6.4)" fill="#4c4c4c"/><path d="M.3726 0H.2847V-.56Q.2529-.5298 .2014-.4995Q.1499-.4692 .1089-.4541V-.5391Q.1826-.5737 .2378-.623Q.293-.6724 .3159-.7188H.3726Z" transform="translate(552.4 375.7) scale(6.4)" fill="#4c4c4c"/><text x="563.48" y="344.5" font-size="6.4" text-anchor="middle" fill="#4c4c4c">9</text><text x="572.73" y="344.5" font-size="6.4" text-anchor="middle" fill="#4c4c4c">9</text><text x="581.97" y="360.1" font-size="6.4" text-anchor="middle" fill="#4c4c4c">5</text><text x="591.21" y="364" font-size="6.4" text-anchor="middle" fill="#4c4c4c">4</text><text x="600.46" y="364" font-size="6.4" text-anchor="middle" fill="#4c4c4c">4</text><text x="609.7" y="371.8" font-size="6.4" text-anchor="middle" fill="#4c4c4c">2</text><text x="618.94" y="371.8" font-size="6.4" text-anchor="middle" fill="#4c4c4c">2</text><text x="628.18" y="371.8" font-size="6.4" text-anchor="middle" fill="#4c4c4c">2</text><path d="M.3726 0H.2847V-.56Q.2529-.5298 .2014-.4995Q.1499-.4692 .1089-.4541V-.5391Q.1826-.5737 .2378-.623Q.293-.6724 .3159-.7188H.3726Z" transform="translate(635.4 375.7) scale(6.4)" fill="#4c4c4c"/><path d="M.3726 0H.2847V-.56Q.2529-.5298 .2014-.4995Q.1499-.4692 .1089-.4541V-.5391Q.1826-.5737 .2378-.623Q.293-.6724 .3159-.7188H.3726Z" transform="translate(644.4 375.7) scale(6.4)" fill="#4c4c4c"/><path d="M.3726 0H.2847V-.56Q.2529-.5298 .2014-.4995Q.1499-.4692 .1089-.4541V-.5391Q.1826-.5737 .2378-.623Q.293-.6724 .3159-.7188H.3726Z" transform="translate(654.4 375.7) scale(6.4)" fill="#4c4c4c"/><path d="M.3726 0H.2847V-.56Q.2529-.5298 .2014-.4995Q.1499-.4692 .1089-.4541V-.5391Q.1826-.5737 .2378-.623Q.293-.6724 .3159-.7188H.3726Z" transform="translate(663.4 375.7) scale(6.4)" fill="#4c4c4c"/><path d="M.3726 0H.2847V-.56Q.2529-.5298 .2014-.4995Q.1499-.4692 .1089-.4541V-.5391Q.1826-.5737 .2378-.623Q.293-.6724 .3159-.7188H.3726Z" transform="translate(672.4 375.7) scale(6.4)" fill="#4c4c4c"/><path d="M.3726 0H.2847V-.56Q.2529-.5298 .2014-.4995Q.1499-.4692 .1089-.4541V-.5391Q.1826-.5737 .2378-.623Q.293-.6724 .3159-.7188H.3726Z" transform="translate(680.08 328.9) scale(6.4)" fill="#4c4c4c"/><text x="683.64" y="328.9" font-size="6.4" text-anchor="start" fill="#4c4c4c">3</text><text x="692.89" y="348.4" font-size="6.4" text-anchor="middle" fill="#4c4c4c">8</text><text x="702.13" y="367.9" font-size="6.4" text-anchor="middle" fill="#4c4c4c">3</text><text x="711.37" y="371.8" font-size="6.4" text-anchor="middle" fill="#4c4c4c">2</text><path d="M.3726 0H.2847V-.56Q.2529-.5298 .2014-.4995Q.1499-.4692 .1089-.4541V-.5391Q.1826-.5737 .2378-.623Q.293-.6724 .3159-.7188H.3726Z" transform="translate(718.4 375.7) scale(6.4)" fill="#4c4c4c"/><text x="729.86" y="344.5" font-size="6.4" text-anchor="middle" fill="#4c4c4c">9</text></g>
<path d="M207.4 264.5V381.4" stroke="#3a3a3a" stroke-width="0.7" fill="none"/>
<path d="M204.8 381.4H207.4" stroke="#333" stroke-width="0.7" fill="none"/>
<text x="202.4" y="384.7" font-size="8.2" text-anchor="end" fill="#000" class="tk">0</text>
<path d="M204.8 342.4H207.4" stroke="#333" stroke-width="0.7" fill="none"/>
<path d="M.3726 0H.2847V-.56Q.2529-.5298 .2014-.4995Q.1499-.4692 .1089-.4541V-.5391Q.1826-.5737 .2378-.623Q.293-.6724 .3159-.7188H.3726Z" transform="translate(193.28 345.7) scale(8.2)" fill="#000" class="tk"/><text x="197.84" y="345.7" font-size="8.2" text-anchor="start" fill="#000" class="tk">0</text>
<path d="M204.8 303.4H207.4" stroke="#333" stroke-width="0.7" fill="none"/>
<text x="202.4" y="306.7" font-size="8.2" text-anchor="end" fill="#000" class="tk">20</text>
<text transform="translate(189.8 323.2) rotate(-90)" font-size="9.3" text-anchor="middle" fill="#000">Intersection size</text>
<text x="149.2" y="394.25" font-size="8.25" text-anchor="middle" fill="#000">Dengue virus</text>
<text x="149.2" y="408.42" font-size="8.25" text-anchor="middle" fill="#000">Human papillomavirus virus</text>
<text x="149.2" y="422.59" font-size="8.25" text-anchor="middle" fill="#000">Human herpesvirus</text>
<text x="149.2" y="436.76" font-size="8.25" text-anchor="middle" fill="#000">Zika virus</text>
<text x="149.2" y="450.93" font-size="8.25" text-anchor="middle" fill="#000">Influenza A virus</text>
<text x="149.2" y="465.1" font-size="8.25" text-anchor="middle" fill="#000">Other viruses (27)</text>
<rect x="51.9" y="386.85" width="41.6" height="9.2" fill="#1a1a1a"/>
<rect x="40.9" y="401.02" width="52.6" height="9.2" fill="#1a1a1a"/>
<rect x="31.2" y="415.19" width="62.3" height="9.2" fill="#1a1a1a"/>
<rect x="30.9" y="429.36" width="62.6" height="9.2" fill="#1a1a1a"/>
<rect x="23.8" y="443.53" width="69.7" height="9.2" fill="#1a1a1a"/>
<rect x="9.4" y="457.7" width="84.1" height="9.2" fill="#1a1a1a"/>
<path d="M5.1 468.7H93.3" stroke="#444" stroke-width="0.7" fill="none"/>
<path d="M93.1 468.7v3" stroke="#444" stroke-width="0.7" fill="none"/>
<text x="93.1" y="481.1" font-size="8.2" text-anchor="middle" fill="#000" class="tk">0</text>
<path d="M70.7 468.7v3" stroke="#444" stroke-width="0.7" fill="none"/>
<text x="70.7" y="481.1" font-size="8.2" text-anchor="middle" fill="#000" class="tk">50</text>
<path d="M48.2 468.7v3" stroke="#444" stroke-width="0.7" fill="none"/>
<path d="M.3726 0H.2847V-.56Q.2529-.5298 .2014-.4995Q.1499-.4692 .1089-.4541V-.5391Q.1826-.5737 .2378-.623Q.293-.6724 .3159-.7188H.3726Z" transform="translate(41.36 481.1) scale(8.2)" fill="#000" class="tk"/><text x="45.92" y="481.1" font-size="8.2" text-anchor="start" fill="#000" class="tk">0</text><text x="50.48" y="481.1" font-size="8.2" text-anchor="start" fill="#000" class="tk">0</text>
<path d="M26.1 468.7v3" stroke="#444" stroke-width="0.7" fill="none"/>
<path d="M.3726 0H.2847V-.56Q.2529-.5298 .2014-.4995Q.1499-.4692 .1089-.4541V-.5391Q.1826-.5737 .2378-.623Q.293-.6724 .3159-.7188H.3726Z" transform="translate(19.26 481.1) scale(8.2)" fill="#000" class="tk"/><text x="23.82" y="481.1" font-size="8.2" text-anchor="start" fill="#000" class="tk">5</text><text x="28.38" y="481.1" font-size="8.2" text-anchor="start" fill="#000" class="tk">0</text>
<text x="49" y="490.1" font-size="9.3" text-anchor="middle" fill="#000">Set size</text>
<text x="12.9" y="20.9" font-size="19.3" font-weight="bold" fill="#111" style="stroke:none">A</text>
<text x="13.0" y="276.0" font-size="19.3" font-weight="bold" fill="#111" style="stroke:none">B</text>
</svg>
</body></html>
